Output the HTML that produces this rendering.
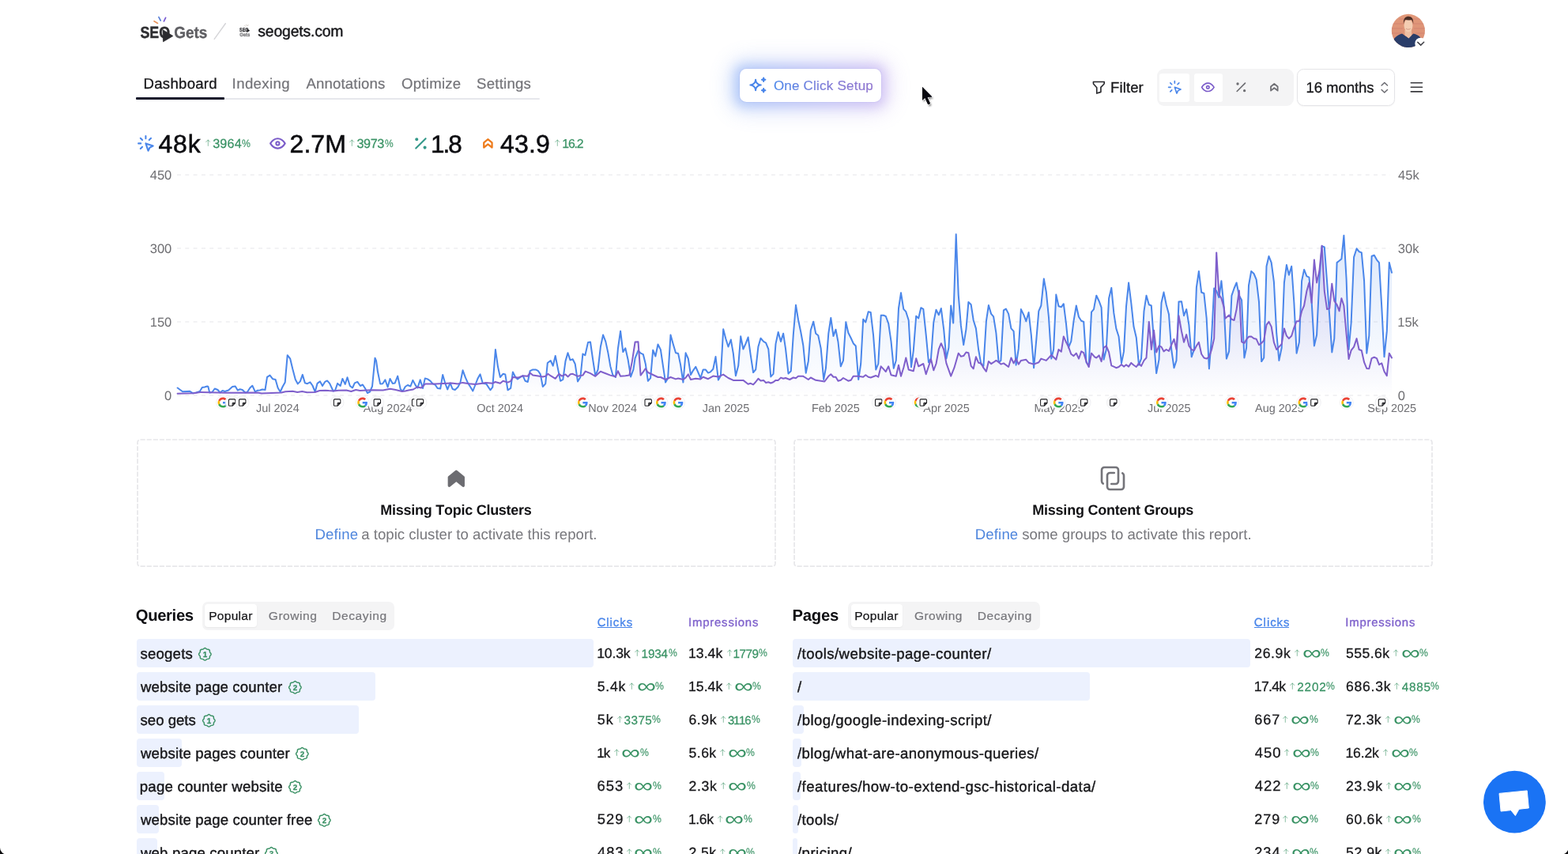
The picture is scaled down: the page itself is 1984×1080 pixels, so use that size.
<!DOCTYPE html>
<html lang="en"><head><meta charset="utf-8"><title>SEO Gets – seogets.com dashboard</title><meta name="viewport" content="width=1984"><style>
*{box-sizing:border-box}
html,body{margin:0;padding:0;background:#fff}
html{width:1984px;height:1080px;overflow:hidden}
body{width:1984px;height:1080px;overflow:hidden;font-family:"Liberation Sans",Arial,Helvetica,sans-serif;font-kerning:none;color:#17171a;-webkit-font-smoothing:antialiased;text-rendering:geometricPrecision}
main{display:block;position:relative;width:1984px;height:1080px;overflow:hidden;contain:strict}
header,nav,section,article,div[role]{display:block;margin:0;padding:0}
.t{position:absolute;white-space:nowrap;line-height:1;margin:0;padding:0;font-weight:400;text-decoration:none;border:0;background:none;font-family:inherit;display:block;cursor:default}
.grad{background:linear-gradient(90deg,#4a86ea 0%,#7f7ad6 55%,#8f74cf 100%);-webkit-background-clip:text;background-clip:text;color:transparent;-webkit-text-fill-color:transparent}
.ocs-glow{position:absolute;border-radius:14px;background:linear-gradient(90deg,#4f86f0,#9d7be6);filter:blur(7px);opacity:.3}
.ocs-far{filter:blur(13px);opacity:.2;border-radius:22px}
.ocs{box-shadow:0 0 0 1px rgba(120,130,230,.10)}
</style></head>
<body>
<main>
<header>
<svg style="position:absolute;left:170px;top:14px" width="100" height="48" viewBox="170 14 100 48" aria-label="SEO Gets"><text x="177.4" y="47.5" font-family='"Liberation Sans",Arial,sans-serif' font-weight="700" font-size="20.6" fill="#2e2e31" stroke="#2e2e31" stroke-width=".45" stroke-linejoin="round" textLength="37.6" lengthAdjust="spacingAndGlyphs">SEO</text><text x="220.2" y="47.5" font-family='"Liberation Sans",Arial,sans-serif' font-weight="700" font-size="20.6" fill="#5e5e62" stroke="#5e5e62" stroke-width=".35" stroke-linejoin="round" textLength="42.2" lengthAdjust="spacingAndGlyphs">Gets</text><path d="M206 37.700 218.800 45.500 206.500 52.800Z" fill="#2b2b2f" stroke="#2b2b2f" stroke-width="0.8" stroke-linejoin="round"/><path d="M195 26.800l4.500 2.600" stroke="#e8945c" stroke-width="1.700" stroke-linecap="round"/><path d="M200.900 21.600l2.300 4.400" stroke="#5d82d8" stroke-width="1.700" stroke-linecap="round"/><path d="M209.600 22.300l-2.200 4.600" stroke="#7a5bd3" stroke-width="1.700" stroke-linecap="round"/></svg>
<svg style="position:absolute;left:268.00px;top:27.00px;" width="20.00" height="25.00" viewBox="268 27 20 25" fill="none" aria-hidden="true"><path d="M271.200 49.400 285.300 29.700" stroke="#d6d6d9" stroke-width="1.500" stroke-linecap="round"/></svg>
<svg style="position:absolute;left:301px;top:29px" width="18" height="18" viewBox="301 29 18 18" aria-hidden="true"><text x="303" y="39.600" font-family='"Liberation Sans",Arial,sans-serif' font-weight="700" font-size="6.800" fill="#3a3a3d" stroke="#3a3a3d" stroke-width=".3" textLength="11.500" lengthAdjust="spacingAndGlyphs">SEO</text><text x="303.200" y="45.600" font-family='"Liberation Sans",Arial,sans-serif' font-weight="700" font-size="6.600" fill="#77777a" stroke="#77777a" stroke-width=".25" textLength="13.200" lengthAdjust="spacingAndGlyphs">Gets</text><path d="M312.300 36.200 316.200 38.700 312.500 41Z" fill="#1c1c1f"/><path d="M309.500 32.300l1 .9M311.600 31.200l.5 1.200M314 31.400l-.5 1.200" stroke="#b9a9a0" stroke-width=".6" stroke-linecap="round"/></svg>
<span class="t" style="left:326.26px;top:31.21px;font-size:19.40px;letter-spacing:-0.167px;color:#17171a;-webkit-text-stroke:0.4px currentColor;">seogets.com</span>
<svg style="position:absolute;left:1758px;top:15px" width="50" height="50" viewBox="1758 15 50 50" aria-label="Account"><defs><clipPath id="avc"><circle cx="1781.900" cy="38.900" r="21.100"/></clipPath><linearGradient id="avbg" x1="0" y1="0" x2="0" y2="1"><stop offset="0" stop-color="#e2997a"/><stop offset="1" stop-color="#d98e74"/></linearGradient></defs><g clip-path="url(#avc)"><rect x="1758" y="15" width="50" height="50" fill="url(#avbg)"/><path d="M1762 30h14M1788 30h16M1760 36h15M1789 36h15M1761 42h12M1791 42h13M1770 24h6M1788 24h10" stroke="#cf7f70" stroke-width="1.200" opacity=".7"/><path d="M1760 62c0-10 5-17 14-19.500l8 5.500 6.500-5.500c7 1.500 10.500 6 12.500 12l2 9z" fill="#2a3d69"/><path d="M1777.500 38h8.600v6.800l-3.600 3.600-5-4z" fill="#eebfa3"/><ellipse cx="1782" cy="32.300" rx="5.500" ry="8" fill="#f4cdb2"/><path d="M1776 30.500c-.8-6 1.500-9.800 6.200-9.800 4.600 0 6.500 3.600 5.900 9.600-.5-3-1.300-4.600-2.300-5.400-2.300.8-5.400.8-7.600.2-1.200 1-1.800 2.900-2.200 5.400z" fill="#4a2e26"/><path d="M1779 36.200c1.800 1.300 4 1.300 5.800 0" stroke="#c98f7b" stroke-width=".8" fill="none"/></g><circle cx="1797.500" cy="54.900" r="7.200" fill="#fff"/><path d="M1793.800 53.400 1797.700 57.100 1801.700 53.300" stroke="#3f3f46" stroke-width="1.500" stroke-linecap="round" stroke-linejoin="round" fill="none"/></svg>
</header>
<nav>
<div style="position:absolute;left:172.00px;top:123.60px;width:510.60px;height:2.10px;background:#e6e7ec;border-radius:1px;"></div>
<div style="position:absolute;left:172.00px;top:123.30px;width:112.20px;height:2.50px;background:#14162b;border-radius:1px;"></div>
<a class="t" style="left:181.57px;top:97.11px;font-size:18.60px;letter-spacing:0.266px;color:#17171a;-webkit-text-stroke:0.3px currentColor;">Dashboard</a>
<a class="t" style="left:293.58px;top:97.11px;font-size:18.60px;letter-spacing:0.399px;color:#737378;-webkit-text-stroke:0.2px currentColor;">Indexing</a>
<a class="t" style="left:387.46px;top:97.11px;font-size:18.60px;letter-spacing:0.157px;color:#737378;-webkit-text-stroke:0.2px currentColor;">Annotations</a>
<a class="t" style="left:508.02px;top:97.11px;font-size:18.60px;letter-spacing:0.261px;color:#737378;-webkit-text-stroke:0.2px currentColor;">Optimize</a>
<a class="t" style="left:603.06px;top:97.11px;font-size:18.60px;letter-spacing:0.230px;color:#737378;-webkit-text-stroke:0.2px currentColor;">Settings</a>
</nav>
<div class="ocs-glow ocs-far" style="left:922px;top:74px;width:206px;height:69px"></div>
<div class="ocs-glow" style="left:929px;top:81px;width:192px;height:55px"></div>
<div class="ocs" style="position:absolute;left:935.80px;top:86.90px;width:178.90px;height:41.90px;background:#fff;border-radius:8.500px;"></div>
<svg style="position:absolute;left:946.20px;top:94.30px;" width="26.90" height="26.90" viewBox="0 0 24 24" fill="none" aria-hidden="true"><g stroke="#4a86ea" stroke-width="1.800" stroke-linecap="round" stroke-linejoin="round"><path d="M16 18a2 2 0 0 1 2 2a2 2 0 0 1 2-2a2 2 0 0 1-2-2a2 2 0 0 1-2 2zm0-12a2 2 0 0 1 2 2a2 2 0 0 1 2-2a2 2 0 0 1-2-2a2 2 0 0 1-2 2zm-7 12a6 6 0 0 1 6-6a6 6 0 0 1-6-6a6 6 0 0 1-6 6a6 6 0 0 1 6 6z"/></g><path d="M16 6a2 2 0 0 1 2 2a2 2 0 0 1 2-2a2 2 0 0 1-2-2a2 2 0 0 1-2 2zM16 18a2 2 0 0 1 2 2a2 2 0 0 1 2-2a2 2 0 0 1-2-2a2 2 0 0 1-2 2z" fill="#4a86ea"/></svg>
<button class="t grad" style="left:978.89px;top:99.71px;font-size:17.00px;letter-spacing:0.220px;-webkit-text-stroke:0.2px currentColor;">One Click Setup</button>
<div role="toolbar">
<svg style="position:absolute;left:1379.57px;top:99.87px;" width="20.67" height="20.67" viewBox="0 0 24 24" fill="none" aria-hidden="true"><g stroke="#2a2a2e" stroke-width="1.9" stroke-linecap="round" stroke-linejoin="round" color="#2a2a2e"><path d="M4 4h16v2.172a2 2 0 0 1-.586 1.414L15 12v7l-6 2v-8.500L4.520 7.572A2 2 0 0 1 4 6.227z"/></g></svg>
<button class="t" style="left:1405.07px;top:101.71px;font-size:18.60px;letter-spacing:0.080px;color:#17171a;-webkit-text-stroke:0.3px currentColor;">Filter</button>
<div style="position:absolute;left:1463.60px;top:86.90px;width:173.00px;height:47.40px;background:#f4f4f5;border-radius:9px;"></div>
<div style="position:absolute;left:1466.80px;top:92.50px;width:38.10px;height:36.00px;background:#fff;border-radius:3px;"></div>
<div style="position:absolute;left:1510.80px;top:92.50px;width:36.40px;height:36.00px;background:#fff;border-radius:3px;"></div>
<svg style="position:absolute;left:1475.57px;top:100.16px;" width="20.67" height="20.67" viewBox="0 0 24 24" fill="none" aria-hidden="true"><g stroke="#4a86ea" stroke-width="1.9" stroke-linecap="round" stroke-linejoin="round" color="#4a86ea"><path d="M3 12h3M12 3v3M7.8 7.8 5.6 5.6M16.2 7.8l2.2-2.2M7.8 16.2l-2.2 2.2M12 12l9 3-4 2-2 4-3-9"/></g></svg>
<svg style="position:absolute;left:1517.76px;top:100.16px;" width="20.67" height="20.67" viewBox="0 0 24 24" fill="none" aria-hidden="true"><g stroke="#7b5cc9" stroke-width="1.9" stroke-linecap="round" stroke-linejoin="round" color="#7b5cc9"><path d="M10 12a2 2 0 1 0 4 0a2 2 0 0 0-4 0"/><path d="M21 12c-2.4 4-5.4 6-9 6c-3.6 0-6.6-2-9-6c2.4-4 5.4-6 9-6c3.6 0 6.6 2 9 6"/></g></svg>
<svg style="position:absolute;left:1559.66px;top:100.06px;" width="20.67" height="20.67" viewBox="0 0 24 24" fill="none" aria-hidden="true"><g stroke="#6e6e73" stroke-width="1.9" stroke-linecap="round" stroke-linejoin="round" color="#6e6e73"><path d="M16 17a1 1 0 1 0 2 0a1 1 0 1 0-2 0M6 7a1 1 0 1 0 2 0a1 1 0 1 0-2 0M6 18 18 6"/></g></svg>
<svg style="position:absolute;left:1602.16px;top:99.97px;" width="20.67" height="20.67" viewBox="0 0 24 24" fill="none" aria-hidden="true"><g stroke="#6e6e73" stroke-width="2.1" stroke-linecap="round" stroke-linejoin="round" color="#6e6e73"><path d="M17 11v6l-5-4-5 4v-6l5-4z"/></g></svg>
<div style="position:absolute;left:1641.40px;top:87.00px;width:124.00px;height:47.00px;background:#fff;border:1px solid #e4e4e7;border-radius:8.500px;box-sizing:border-box;box-shadow:0 1px 2px rgba(0,0,0,.04);"></div>
<span class="t" style="left:1652.38px;top:101.80px;font-size:18.60px;letter-spacing:-0.083px;color:#17171a;-webkit-text-stroke:0.3px currentColor;">16 months</span>
<svg style="position:absolute;left:1743.00px;top:100.00px;" width="18.00" height="22.00" viewBox="1743 100 18 22" fill="none" aria-hidden="true"><path d="M1748.100 108.000 1751.800 104.500 1755.500 108.000M1748.100 113.500 1751.800 117.000 1755.500 113.500" stroke="#6a6a70" stroke-width="1.500" stroke-linecap="round" stroke-linejoin="round"/></svg>
<svg style="position:absolute;left:1780.00px;top:100.00px;" width="24.00" height="22.00" viewBox="1780 100 24 22" fill="none" aria-hidden="true"><path d="M1785.300 104.700h14.200M1785.300 110.300h14.200M1785.300 115.900h14.200" stroke="#3a3a3e" stroke-width="1.600" stroke-linecap="round"/></svg>
</div>
<section aria-label="Totals">
<svg style="position:absolute;left:172.40px;top:169.00px;" width="24.80" height="24.80" viewBox="0 0 24 24" fill="none" aria-hidden="true"><g stroke="#4a86ea" stroke-width="2" stroke-linecap="round" stroke-linejoin="round" color="#4a86ea"><path d="M3 12h3M12 3v3M7.8 7.8 5.6 5.6M16.2 7.8l2.2-2.2M7.8 16.2l-2.2 2.2M12 12l9 3-4 2-2 4-3-9"/></g></svg>
<span class="t" style="left:200.57px;top:165.61px;font-size:32.00px;letter-spacing:0.747px;color:#0c0c10;-webkit-text-stroke:0.55px currentColor;">48k</span>
<svg style="position:absolute;left:259.80px;top:176.17px;" width="6.60" height="9.20" viewBox="0 0 6.600 9.200" fill="none" aria-hidden="true"><path d="M3.300 8.400V1M.700 3.600 3.300 1 5.900 3.600" stroke="#3a9365" stroke-opacity=".6" stroke-width="1.000" stroke-linecap="round" stroke-linejoin="round"/></svg><span class="t" style="left:269.18px;top:173.61px;font-size:16.20px;letter-spacing:0.151px;color:#3a9365;-webkit-text-stroke:0.25px currentColor;">3964</span><span class="t" style="left:306.46px;top:174.52px;font-size:13.6px;color:#3a9365;-webkit-text-stroke:.15px currentColor;transform:scaleX(0.899);transform-origin:0 50%;">%</span>
<svg style="position:absolute;left:338.90px;top:169.00px;" width="24.80" height="24.80" viewBox="0 0 24 24" fill="none" aria-hidden="true"><g stroke="#7b5cc9" stroke-width="2" stroke-linecap="round" stroke-linejoin="round" color="#7b5cc9"><path d="M10 12a2 2 0 1 0 4 0a2 2 0 0 0-4 0"/><path d="M21 12c-2.4 4-5.4 6-9 6c-3.6 0-6.6-2-9-6c2.4-4 5.4-6 9-6c3.6 0 6.6 2 9 6"/></g></svg>
<span class="t" style="left:366.59px;top:165.61px;font-size:32.00px;letter-spacing:0.031px;color:#0c0c10;-webkit-text-stroke:0.55px currentColor;">2.7M</span>
<svg style="position:absolute;left:442.00px;top:176.17px;" width="6.60" height="9.20" viewBox="0 0 6.600 9.200" fill="none" aria-hidden="true"><path d="M3.300 8.400V1M.700 3.600 3.300 1 5.900 3.600" stroke="#3a9365" stroke-opacity=".6" stroke-width="1.000" stroke-linecap="round" stroke-linejoin="round"/></svg><span class="t" style="left:451.38px;top:173.61px;font-size:16.20px;letter-spacing:-0.370px;color:#3a9365;-webkit-text-stroke:0.25px currentColor;">3973</span><span class="t" style="left:486.87px;top:174.52px;font-size:13.6px;color:#3a9365;-webkit-text-stroke:.15px currentColor;transform:scaleX(0.881);transform-origin:0 50%;">%</span>
<svg style="position:absolute;left:520.00px;top:169.00px;" width="24.80" height="24.80" viewBox="0 0 24 24" fill="none" aria-hidden="true"><g stroke="#35998a" stroke-width="2" stroke-linecap="round" stroke-linejoin="round" color="#35998a"><path d="M16 17a1 1 0 1 0 2 0a1 1 0 1 0-2 0M6 7a1 1 0 1 0 2 0a1 1 0 1 0-2 0M6 18 18 6"/></g></svg>
<span class="t" style="left:545.01px;top:166.61px;font-size:31.40px;letter-spacing:-2.000px;color:#0c0c10;-webkit-text-stroke:0.55px currentColor;">1.8</span>
<svg style="position:absolute;left:605.40px;top:169.20px;" width="24.80" height="24.80" viewBox="0 0 24 24" fill="none" aria-hidden="true"><g stroke="#ee7d1f" stroke-width="2.2" stroke-linecap="round" stroke-linejoin="round" color="#ee7d1f"><path d="M17 11v6l-5-4-5 4v-6l5-4z"/></g></svg>
<span class="t" style="left:633.07px;top:165.61px;font-size:32.00px;letter-spacing:0.156px;color:#0c0c10;-webkit-text-stroke:0.55px currentColor;">43.9</span>
<svg style="position:absolute;left:702.00px;top:176.27px;" width="6.60" height="9.20" viewBox="0 0 6.600 9.200" fill="none" aria-hidden="true"><path d="M3.300 8.400V1M.700 3.600 3.300 1 5.900 3.600" stroke="#3a9365" stroke-opacity=".6" stroke-width="1.000" stroke-linecap="round" stroke-linejoin="round"/></svg><span class="t" style="left:711.29px;top:174.70px;font-size:15.83px;letter-spacing:-1.200px;color:#3a9365;-webkit-text-stroke:0.25px currentColor;">16.2</span>
</section>
<section aria-label="Performance chart">
<svg style="position:absolute;left:0;top:200px" width="1984" height="330" viewBox="0 200 1984 330" fill="none" role="img" aria-label="Clicks and impressions over 16 months"><defs><linearGradient id="gb" gradientUnits="userSpaceOnUse" x1="0" y1="290" x2="0" y2="500"><stop offset="0" stop-color="#4a86ea" stop-opacity=".2"/><stop offset="1" stop-color="#4a86ea" stop-opacity="0"/></linearGradient><linearGradient id="gp" gradientUnits="userSpaceOnUse" x1="0" y1="290" x2="0" y2="500"><stop offset="0" stop-color="#7b5cc9" stop-opacity=".2"/><stop offset="1" stop-color="#7b5cc9" stop-opacity="0"/></linearGradient></defs><path d="M224 221.1H1759" stroke="#e5e5e9" stroke-width="1" stroke-dasharray="5 5.3"/><path d="M224 314.0H1759" stroke="#e5e5e9" stroke-width="1" stroke-dasharray="5 5.3"/><path d="M224 407.0H1759" stroke="#e5e5e9" stroke-width="1" stroke-dasharray="5 5.3"/><path d="M224 500.0H1759" stroke="#e5e5e9" stroke-width="1" stroke-dasharray="5 5.3"/><path d="M224.6,500 L224.6,490.5 L231.1,495.3 L236.7,495.0 L240.2,494.8 L244.2,497.3 L248.3,496.5 L252.8,495.0 L255.8,490.0 L258.9,489.5 L262.2,488.5 L263.4,489.0 L265.2,496.5 L268.4,496.0 L271.7,491.5 L275.5,493.0 L278.5,496.5 L281.5,494.0 L284.6,495.0 L289.1,493.5 L294.1,489.0 L297.7,488.5 L300.7,493.5 L303.7,492.3 L306.7,493.0 L310.3,496.5 L312.8,496.0 L316.3,490.5 L319.3,487.7 L322.9,495.5 L325.9,493.7 L328.9,493.5 L331.9,492.5 L335.5,493.0 L338.0,476.9 L341.5,474.6 L345.0,479.2 L348.6,479.9 L351.6,490.5 L354.6,495.5 L357.6,489.0 L360.7,483.4 L363.7,449.2 L367.2,453.7 L370.2,466.3 L373.8,479.9 L376.8,485.4 L379.8,482.4 L382.8,473.9 L385.9,484.4 L388.9,485.2 L392.4,483.4 L395.4,487.5 L398.7,495.5 L401.5,484.9 L405.0,482.4 L408.0,488.0 L411.1,482.9 L414.0,481.4 L417.1,484.9 L421.6,494.5 L424.1,493.5 L427.1,484.9 L430.7,488.0 L433.4,478.9 L436.7,485.9 L439.5,477.2 L442.8,488.0 L446.0,490.5 L448.8,484.4 L452.3,482.9 L455.9,488.0 L458.9,486.5 L461.9,491.0 L464.9,497.0 L468.0,495.5 L471.0,488.5 L474.5,452.7 L476.0,456.2 L478.0,470.3 L481.1,485.4 L484.1,485.2 L487.4,480.4 L490.6,489.5 L493.5,478.9 L496.7,484.9 L499.7,484.4 L503.2,475.6 L506.8,492.5 L509.8,494.5 L512.8,489.0 L515.8,487.0 L519.4,488.5 L522.4,480.9 L525.9,487.5 L528.4,490.5 L531.7,480.4 L535.0,491.0 L537.8,478.4 L541.0,479.4 L544.6,481.9 L547.6,485.4 L550.6,486.5 L553.6,491.0 L557.2,491.5 L560.2,473.9 L563.2,484.4 L566.2,492.5 L569.6,484.4 L572.6,492.0 L575.8,493.0 L579.4,489.5 L582.4,483.9 L585.6,468.3 L588.9,477.4 L592.0,484.4 L595.0,489.0 L598.3,494.5 L601.5,486.5 L604.6,478.4 L606.8,474.4 L607.6,473.4 L610.8,484.8 L615.2,485.4 L620.4,493.3 L623.3,489.7 L626.9,442.1 L630.0,463.8 L632.9,477.0 L636.5,472.8 L639.3,473.4 L642.5,493.3 L646.2,490.9 L648.9,470.4 L652.2,477.0 L654.9,479.4 L658.5,477.0 L661.6,475.2 L664.6,481.8 L667.8,483.0 L670.6,469.2 L674.2,467.4 L677.8,467.4 L681.1,469.2 L683.8,473.4 L686.8,489.0 L690.2,485.4 L692.8,459.0 L696.7,456.0 L699.7,462.6 L702.7,449.9 L705.8,465.6 L709.1,481.8 L712.3,480.0 L715.5,456.6 L718.5,446.3 L721.5,455.4 L724.7,454.2 L727.7,460.2 L731.0,482.4 L734.4,477.0 L737.4,447.5 L740.4,449.3 L744.0,433.1 L747.0,432.5 L750.2,454.8 L753.3,475.2 L756.6,467.4 L759.9,438.5 L763.1,423.5 L766.3,431.9 L769.3,445.7 L772.3,463.2 L775.3,474.0 L778.9,477.0 L781.9,440.9 L785.1,418.7 L788.3,445.1 L791.3,440.3 L794.5,454.2 L798.1,476.4 L801.4,467.4 L803.6,452.9 L807.5,443.3 L810.6,446.7 L813.8,448.1 L816.8,460.2 L819.9,481.8 L823.1,478.2 L826.2,442.7 L829.4,450.5 L832.5,435.5 L835.9,442.1 L839.1,463.8 L842.1,483.6 L845.1,478.2 L848.5,423.5 L851.7,434.9 L855.0,446.3 L858.1,446.9 L861.1,461.4 L864.4,483.6 L867.6,446.3 L870.8,453.5 L874.0,474.0 L877.0,468.6 L880.3,463.8 L883.4,471.0 L886.4,478.2 L889.7,467.4 L892.7,467.4 L896.0,471.6 L898.9,470.4 L902.3,466.8 L905.5,451.1 L908.9,480.6 L911.9,475.2 L915.2,416.2 L918.3,428.3 L921.5,438.5 L924.8,429.5 L927.8,446.9 L930.9,475.2 L934.2,462.6 L937.2,425.3 L940.4,441.5 L943.4,434.9 L946.6,426.5 L949.8,449.3 L953.1,471.0 L956.2,467.4 L959.4,438.5 L962.5,427.7 L966.1,431.9 L969.1,433.7 L972.3,441.5 L975.3,476.4 L978.5,472.8 L981.5,434.9 L984.7,419.9 L988.0,431.9 L991.1,421.7 L994.0,440.9 L997.5,472.5 L1000.8,469.2 L1003.8,423.3 L1007.0,385.8 L1010.0,404.2 L1013.3,420.0 L1016.3,436.7 L1019.7,471.7 L1022.8,456.7 L1025.8,417.5 L1029.2,406.7 L1032.2,421.7 L1035.3,424.2 L1038.7,440.8 L1042.2,480.0 L1045.0,465.0 L1048.3,421.7 L1051.3,402.0 L1054.5,425.0 L1057.5,416.7 L1060.5,432.5 L1063.8,463.3 L1067.0,455.8 L1070.3,407.2 L1073.3,420.8 L1076.7,427.5 L1079.7,434.2 L1082.8,437.5 L1086.2,480.0 L1089.2,460.0 L1092.2,403.7 L1095.3,407.5 L1098.7,394.2 L1101.7,395.0 L1105.0,423.3 L1108.3,467.5 L1111.3,460.0 L1114.7,398.7 L1117.8,398.7 L1120.8,400.0 L1124.2,409.2 L1127.5,431.7 L1130.8,465.8 L1133.8,455.8 L1137.0,390.0 L1140.0,370.3 L1143.3,390.8 L1146.3,394.2 L1149.7,405.0 L1153.0,464.2 L1155.8,443.3 L1159.2,399.7 L1162.2,402.5 L1165.3,389.2 L1168.3,390.8 L1171.7,423.3 L1175.0,458.3 L1178.0,453.3 L1181.3,407.5 L1184.5,391.7 L1187.8,398.3 L1190.8,390.0 L1194.2,416.6 L1197.4,453.6 L1200.4,439.7 L1203.2,386.5 L1206.2,408.5 L1209.7,296.2 L1212.7,372.6 L1215.9,411.9 L1219.2,436.2 L1222.4,416.6 L1225.4,381.9 L1228.7,385.3 L1231.7,405.0 L1234.9,415.4 L1238.1,442.0 L1241.4,460.6 L1244.4,462.9 L1247.9,406.2 L1250.9,386.0 L1254.1,396.9 L1257.1,400.4 L1260.4,421.2 L1263.6,458.2 L1266.4,455.9 L1269.9,392.3 L1272.9,390.6 L1276.1,396.9 L1279.4,415.4 L1282.6,418.9 L1285.6,461.7 L1288.8,440.9 L1291.9,391.1 L1295.3,398.1 L1298.3,406.2 L1301.6,395.0 L1304.8,423.5 L1308.1,465.2 L1311.3,429.3 L1314.3,393.4 L1317.3,386.5 L1320.8,352.5 L1323.8,369.1 L1327.0,401.5 L1330.3,453.6 L1333.1,442.0 L1336.3,372.6 L1339.5,387.2 L1342.8,388.3 L1345.8,384.2 L1349.0,409.6 L1352.0,439.7 L1355.3,431.6 L1358.5,406.2 L1361.8,386.5 L1365.0,400.8 L1368.2,405.7 L1371.2,406.9 L1374.5,458.2 L1377.7,462.9 L1381.0,394.6 L1384.0,391.1 L1385.0,385.3 L1387.3,373.8 L1390.6,380.7 L1393.6,388.8 L1396.6,454.8 L1399.8,442.0 L1403.1,377.2 L1406.3,364.0 L1409.3,395.7 L1412.3,415.4 L1415.6,425.8 L1419.0,459.4 L1422.0,444.4 L1425.0,387.6 L1428.1,357.5 L1431.3,383.0 L1434.5,413.1 L1437.8,427.0 L1441.0,461.7 L1444.0,453.6 L1447.5,393.4 L1450.5,373.8 L1453.8,385.3 L1456.8,386.5 L1460.0,431.6 L1463.2,472.1 L1466.5,454.8 L1469.5,383.0 L1472.5,369.6 L1475.7,385.3 L1479.0,397.6 L1482.2,442.0 L1485.5,465.2 L1488.5,455.9 L1491.5,381.4 L1495.0,381.2 L1498.0,399.2 L1501.2,391.1 L1504.4,410.8 L1507.7,451.3 L1510.9,442.0 L1513.9,363.3 L1516.9,343.0 L1520.2,369.8 L1523.4,371.0 L1526.7,402.7 L1529.9,466.3 L1533.1,425.8 L1536.2,364.5 L1539.2,368.0 L1542.4,376.1 L1545.4,355.2 L1548.7,388.8 L1551.9,453.6 L1555.1,444.4 L1558.4,373.8 L1561.6,364.5 L1564.6,357.5 L1567.9,373.8 L1571.1,379.5 L1574.4,452.5 L1577.1,439.7 L1580.0,361.0 L1583.2,343.0 L1586.5,346.0 L1589.7,353.6 L1593.0,381.9 L1596.2,457.1 L1599.2,452.5 L1602.5,336.7 L1605.5,324.0 L1608.7,332.1 L1611.9,356.4 L1615.2,421.2 L1618.4,455.9 L1621.7,439.7 L1624.9,357.5 L1627.9,335.1 L1630.9,347.8 L1634.2,336.7 L1637.4,383.0 L1640.6,446.7 L1643.9,432.8 L1647.1,355.2 L1650.1,340.9 L1653.4,349.4 L1656.4,350.6 L1659.6,380.7 L1662.9,437.4 L1666.1,423.5 L1669.4,352.9 L1672.6,311.2 L1675.8,312.4 L1679.1,356.4 L1682.3,400.4 L1685.3,445.5 L1688.3,428.1 L1691.6,332.1 L1694.6,329.8 L1697.4,327.5 L1700.4,297.8 L1703.6,352.9 L1706.6,442.0 L1709.6,408.5 L1713.1,325.1 L1716.6,314.3 L1719.6,318.2 L1722.8,319.4 L1726.1,355.2 L1729.3,446.7 L1732.3,424.7 L1735.6,324.0 L1738.8,322.8 L1742.0,328.6 L1745.0,332.1 L1748.3,388.8 L1751.5,451.3 L1754.8,418.9 L1757.8,332.1 L1761.0,344.8 L1761.0,500Z" fill="url(#gb)"/><path d="M224.6,500 L224.6,497.7 L245.2,497.3 L253.3,496.0 L285.6,496.7 L325.9,496.5 L330.9,497.5 L356.1,496.5 L361.2,495.3 L370.2,494.8 L376.3,496.0 L382.3,495.0 L388.4,496.3 L398.5,496.0 L404.5,494.0 L411.6,493.7 L416.0,494.1 L422.1,494.5 L428.1,493.7 L438.2,493.5 L444.3,495.0 L450.3,493.0 L455.4,494.0 L464.4,493.5 L472.5,493.3 L484.6,493.5 L493.7,491.7 L500.7,493.0 L508.8,495.0 L512.8,494.5 L516.9,493.5 L522.9,492.5 L527.9,489.5 L533.0,490.5 L538.0,485.6 L544.1,485.6 L551.1,485.4 L561.2,484.9 L571.3,484.4 L579.4,485.4 L585.4,483.9 L593.5,485.2 L601.5,485.9 L606.6,485.2 L607.4,485.2 L614.6,484.0 L623.1,484.8 L626.7,483.0 L632.9,484.8 L636.5,481.8 L642.5,483.6 L646.5,481.8 L648.9,477.0 L655.5,477.6 L661.6,475.2 L667.6,475.8 L670.6,471.6 L674.2,474.6 L681.1,475.6 L686.8,476.4 L690.2,475.8 L693.4,472.8 L696.7,475.2 L702.7,478.8 L707.3,472.8 L710.9,475.6 L715.5,473.4 L718.7,476.4 L721.7,473.2 L724.7,472.8 L731.0,475.8 L737.4,474.6 L740.7,469.6 L747.0,472.2 L753.3,475.8 L759.9,469.8 L766.3,472.2 L772.3,474.6 L778.9,476.4 L781.9,469.2 L785.1,475.8 L791.3,475.2 L796.3,474.6 L799.9,456.6 L803.6,432.5 L807.5,432.3 L810.6,474.6 L813.8,470.4 L816.8,466.2 L819.9,471.0 L826.2,474.0 L832.5,477.0 L835.9,477.0 L842.1,480.0 L848.5,477.0 L855.0,479.4 L858.1,478.5 L864.4,480.0 L867.6,477.6 L870.8,473.4 L874.0,480.0 L880.3,478.8 L886.4,479.4 L889.7,476.8 L896.0,479.2 L902.3,475.6 L908.9,476.4 L915.2,473.6 L921.5,478.0 L927.8,480.9 L934.2,480.9 L940.4,480.9 L946.6,485.7 L949.8,484.8 L953.1,486.4 L956.2,483.0 L959.4,478.8 L962.5,481.6 L966.1,480.9 L969.1,484.0 L972.3,483.3 L975.3,484.5 L978.5,483.3 L981.5,480.9 L984.7,480.9 L988.0,477.6 L991.1,478.8 L994.0,478.0 L999.2,480.0 L1003.8,477.5 L1007.0,478.3 L1010.0,475.8 L1016.3,475.8 L1022.8,480.0 L1025.8,477.5 L1032.2,480.8 L1038.7,481.7 L1043.3,482.5 L1048.3,475.8 L1051.3,473.3 L1054.5,476.7 L1057.5,476.7 L1060.5,481.7 L1063.8,480.8 L1067.0,478.0 L1073.3,481.7 L1076.7,480.8 L1079.7,475.8 L1086.2,475.8 L1092.2,476.7 L1095.3,474.2 L1098.7,476.7 L1101.7,477.5 L1108.3,475.0 L1111.3,476.7 L1114.7,463.3 L1117.8,466.7 L1120.8,470.0 L1124.2,463.3 L1127.5,474.2 L1133.8,475.8 L1137.0,461.7 L1140.0,475.8 L1143.3,465.0 L1146.3,452.5 L1149.7,467.5 L1155.8,469.2 L1159.2,453.3 L1162.2,463.3 L1168.3,460.0 L1171.7,473.3 L1175.0,463.3 L1178.0,454.2 L1181.3,468.3 L1184.5,460.0 L1187.8,441.7 L1190.8,434.2 L1194.2,442.0 L1197.4,459.4 L1203.2,475.6 L1207.4,465.2 L1212.7,446.7 L1215.9,450.8 L1219.2,450.1 L1222.4,445.5 L1225.4,446.2 L1228.7,462.9 L1231.7,466.3 L1234.9,451.3 L1238.1,458.7 L1241.4,459.4 L1244.4,465.2 L1247.9,469.8 L1250.9,457.1 L1254.1,460.1 L1257.1,458.2 L1260.4,455.9 L1263.6,457.8 L1266.4,460.6 L1269.9,459.4 L1276.1,464.0 L1279.4,452.5 L1282.6,459.4 L1285.6,453.6 L1288.8,460.6 L1291.9,455.9 L1298.3,454.8 L1301.6,458.7 L1308.1,460.6 L1314.3,458.2 L1317.3,453.6 L1323.8,455.9 L1330.3,449.0 L1336.3,454.8 L1339.5,442.0 L1342.8,444.8 L1345.8,425.4 L1349.0,432.8 L1352.0,438.6 L1355.3,447.8 L1358.5,450.1 L1361.8,446.7 L1365.0,453.6 L1368.2,444.4 L1371.2,446.2 L1374.5,457.1 L1377.7,464.0 L1381.0,446.7 L1384.0,450.1 L1385.0,451.3 L1387.3,452.5 L1390.6,449.4 L1393.6,457.1 L1396.6,439.7 L1399.8,437.4 L1403.1,445.5 L1406.3,462.4 L1409.3,463.6 L1412.3,465.2 L1415.6,464.0 L1419.0,461.0 L1422.0,463.6 L1425.0,461.2 L1428.1,463.6 L1431.3,458.9 L1434.5,461.7 L1437.8,464.0 L1441.0,459.4 L1444.0,462.9 L1447.5,455.9 L1450.5,452.5 L1453.8,406.9 L1456.8,442.0 L1460.0,417.7 L1463.2,445.5 L1466.5,437.4 L1469.5,438.6 L1472.5,444.4 L1475.7,442.0 L1479.0,443.9 L1482.2,436.2 L1485.5,428.8 L1488.5,442.0 L1491.5,399.2 L1495.0,418.9 L1498.0,432.8 L1501.2,423.1 L1504.4,437.4 L1507.7,442.0 L1510.9,443.2 L1513.9,437.4 L1516.9,432.8 L1520.2,447.8 L1523.4,452.5 L1526.7,453.6 L1529.9,451.3 L1533.1,442.0 L1536.2,428.1 L1539.2,319.4 L1542.4,372.6 L1545.4,377.2 L1548.7,388.8 L1550.3,402.7 L1555.1,398.5 L1558.4,403.8 L1561.6,405.0 L1564.6,391.1 L1567.9,367.5 L1571.1,432.3 L1574.4,433.9 L1577.1,429.3 L1580.0,425.8 L1583.2,425.4 L1586.5,428.1 L1589.7,428.8 L1593.0,436.2 L1596.2,433.9 L1599.2,430.5 L1602.5,410.8 L1605.5,406.9 L1608.7,413.1 L1611.9,432.8 L1615.2,442.0 L1618.4,438.6 L1621.7,435.1 L1624.9,415.4 L1627.9,424.7 L1630.9,428.1 L1634.2,424.7 L1637.4,414.3 L1640.6,406.2 L1643.9,406.2 L1647.1,393.4 L1650.1,386.5 L1653.4,368.0 L1656.4,357.5 L1659.6,383.0 L1662.9,328.6 L1666.1,357.5 L1669.4,342.5 L1672.6,310.8 L1675.8,368.0 L1679.1,391.1 L1682.3,390.0 L1685.3,358.7 L1688.3,380.7 L1691.6,385.3 L1694.6,393.4 L1697.4,377.2 L1700.4,386.5 L1703.6,422.4 L1706.6,454.1 L1709.6,443.2 L1713.1,438.6 L1716.6,428.1 L1719.6,442.0 L1722.8,443.2 L1726.1,458.2 L1729.3,465.9 L1732.3,466.3 L1735.6,453.1 L1738.8,451.8 L1742.0,453.1 L1745.0,461.2 L1748.3,459.4 L1751.5,469.8 L1754.8,475.1 L1757.8,446.7 L1761.0,452.5 L1761.0,500Z" fill="url(#gp)"/><polyline points="224.6,490.5 231.1,495.3 236.7,495.0 240.2,494.8 244.2,497.3 248.3,496.5 252.8,495.0 255.8,490.0 258.9,489.5 262.2,488.5 263.4,489.0 265.2,496.5 268.4,496.0 271.7,491.5 275.5,493.0 278.5,496.5 281.5,494.0 284.6,495.0 289.1,493.5 294.1,489.0 297.7,488.5 300.7,493.5 303.7,492.3 306.7,493.0 310.3,496.5 312.8,496.0 316.3,490.5 319.3,487.7 322.9,495.5 325.9,493.7 328.9,493.5 331.9,492.5 335.5,493.0 338.0,476.9 341.5,474.6 345.0,479.2 348.6,479.9 351.6,490.5 354.6,495.5 357.6,489.0 360.7,483.4 363.7,449.2 367.2,453.7 370.2,466.3 373.8,479.9 376.8,485.4 379.8,482.4 382.8,473.9 385.9,484.4 388.9,485.2 392.4,483.4 395.4,487.5 398.7,495.5 401.5,484.9 405.0,482.4 408.0,488.0 411.1,482.9 414.0,481.4 417.1,484.9 421.6,494.5 424.1,493.5 427.1,484.9 430.7,488.0 433.4,478.9 436.7,485.9 439.5,477.2 442.8,488.0 446.0,490.5 448.8,484.4 452.3,482.9 455.9,488.0 458.9,486.5 461.9,491.0 464.9,497.0 468.0,495.5 471.0,488.5 474.5,452.7 476.0,456.2 478.0,470.3 481.1,485.4 484.1,485.2 487.4,480.4 490.6,489.5 493.5,478.9 496.7,484.9 499.7,484.4 503.2,475.6 506.8,492.5 509.8,494.5 512.8,489.0 515.8,487.0 519.4,488.5 522.4,480.9 525.9,487.5 528.4,490.5 531.7,480.4 535.0,491.0 537.8,478.4 541.0,479.4 544.6,481.9 547.6,485.4 550.6,486.5 553.6,491.0 557.2,491.5 560.2,473.9 563.2,484.4 566.2,492.5 569.6,484.4 572.6,492.0 575.8,493.0 579.4,489.5 582.4,483.9 585.6,468.3 588.9,477.4 592.0,484.4 595.0,489.0 598.3,494.5 601.5,486.5 604.6,478.4 606.8,474.4 607.6,473.4 610.8,484.8 615.2,485.4 620.4,493.3 623.3,489.7 626.9,442.1 630.0,463.8 632.9,477.0 636.5,472.8 639.3,473.4 642.5,493.3 646.2,490.9 648.9,470.4 652.2,477.0 654.9,479.4 658.5,477.0 661.6,475.2 664.6,481.8 667.8,483.0 670.6,469.2 674.2,467.4 677.8,467.4 681.1,469.2 683.8,473.4 686.8,489.0 690.2,485.4 692.8,459.0 696.7,456.0 699.7,462.6 702.7,449.9 705.8,465.6 709.1,481.8 712.3,480.0 715.5,456.6 718.5,446.3 721.5,455.4 724.7,454.2 727.7,460.2 731.0,482.4 734.4,477.0 737.4,447.5 740.4,449.3 744.0,433.1 747.0,432.5 750.2,454.8 753.3,475.2 756.6,467.4 759.9,438.5 763.1,423.5 766.3,431.9 769.3,445.7 772.3,463.2 775.3,474.0 778.9,477.0 781.9,440.9 785.1,418.7 788.3,445.1 791.3,440.3 794.5,454.2 798.1,476.4 801.4,467.4 803.6,452.9 807.5,443.3 810.6,446.7 813.8,448.1 816.8,460.2 819.9,481.8 823.1,478.2 826.2,442.7 829.4,450.5 832.5,435.5 835.9,442.1 839.1,463.8 842.1,483.6 845.1,478.2 848.5,423.5 851.7,434.9 855.0,446.3 858.1,446.9 861.1,461.4 864.4,483.6 867.6,446.3 870.8,453.5 874.0,474.0 877.0,468.6 880.3,463.8 883.4,471.0 886.4,478.2 889.7,467.4 892.7,467.4 896.0,471.6 898.9,470.4 902.3,466.8 905.5,451.1 908.9,480.6 911.9,475.2 915.2,416.2 918.3,428.3 921.5,438.5 924.8,429.5 927.8,446.9 930.9,475.2 934.2,462.6 937.2,425.3 940.4,441.5 943.4,434.9 946.6,426.5 949.8,449.3 953.1,471.0 956.2,467.4 959.4,438.5 962.5,427.7 966.1,431.9 969.1,433.7 972.3,441.5 975.3,476.4 978.5,472.8 981.5,434.9 984.7,419.9 988.0,431.9 991.1,421.7 994.0,440.9 997.5,472.5 1000.8,469.2 1003.8,423.3 1007.0,385.8 1010.0,404.2 1013.3,420.0 1016.3,436.7 1019.7,471.7 1022.8,456.7 1025.8,417.5 1029.2,406.7 1032.2,421.7 1035.3,424.2 1038.7,440.8 1042.2,480.0 1045.0,465.0 1048.3,421.7 1051.3,402.0 1054.5,425.0 1057.5,416.7 1060.5,432.5 1063.8,463.3 1067.0,455.8 1070.3,407.2 1073.3,420.8 1076.7,427.5 1079.7,434.2 1082.8,437.5 1086.2,480.0 1089.2,460.0 1092.2,403.7 1095.3,407.5 1098.7,394.2 1101.7,395.0 1105.0,423.3 1108.3,467.5 1111.3,460.0 1114.7,398.7 1117.8,398.7 1120.8,400.0 1124.2,409.2 1127.5,431.7 1130.8,465.8 1133.8,455.8 1137.0,390.0 1140.0,370.3 1143.3,390.8 1146.3,394.2 1149.7,405.0 1153.0,464.2 1155.8,443.3 1159.2,399.7 1162.2,402.5 1165.3,389.2 1168.3,390.8 1171.7,423.3 1175.0,458.3 1178.0,453.3 1181.3,407.5 1184.5,391.7 1187.8,398.3 1190.8,390.0 1194.2,416.6 1197.4,453.6 1200.4,439.7 1203.2,386.5 1206.2,408.5 1209.7,296.2 1212.7,372.6 1215.9,411.9 1219.2,436.2 1222.4,416.6 1225.4,381.9 1228.7,385.3 1231.7,405.0 1234.9,415.4 1238.1,442.0 1241.4,460.6 1244.4,462.9 1247.9,406.2 1250.9,386.0 1254.1,396.9 1257.1,400.4 1260.4,421.2 1263.6,458.2 1266.4,455.9 1269.9,392.3 1272.9,390.6 1276.1,396.9 1279.4,415.4 1282.6,418.9 1285.6,461.7 1288.8,440.9 1291.9,391.1 1295.3,398.1 1298.3,406.2 1301.6,395.0 1304.8,423.5 1308.1,465.2 1311.3,429.3 1314.3,393.4 1317.3,386.5 1320.8,352.5 1323.8,369.1 1327.0,401.5 1330.3,453.6 1333.1,442.0 1336.3,372.6 1339.5,387.2 1342.8,388.3 1345.8,384.2 1349.0,409.6 1352.0,439.7 1355.3,431.6 1358.5,406.2 1361.8,386.5 1365.0,400.8 1368.2,405.7 1371.2,406.9 1374.5,458.2 1377.7,462.9 1381.0,394.6 1384.0,391.1 1385.0,385.3 1387.3,373.8 1390.6,380.7 1393.6,388.8 1396.6,454.8 1399.8,442.0 1403.1,377.2 1406.3,364.0 1409.3,395.7 1412.3,415.4 1415.6,425.8 1419.0,459.4 1422.0,444.4 1425.0,387.6 1428.1,357.5 1431.3,383.0 1434.5,413.1 1437.8,427.0 1441.0,461.7 1444.0,453.6 1447.5,393.4 1450.5,373.8 1453.8,385.3 1456.8,386.5 1460.0,431.6 1463.2,472.1 1466.5,454.8 1469.5,383.0 1472.5,369.6 1475.7,385.3 1479.0,397.6 1482.2,442.0 1485.5,465.2 1488.5,455.9 1491.5,381.4 1495.0,381.2 1498.0,399.2 1501.2,391.1 1504.4,410.8 1507.7,451.3 1510.9,442.0 1513.9,363.3 1516.9,343.0 1520.2,369.8 1523.4,371.0 1526.7,402.7 1529.9,466.3 1533.1,425.8 1536.2,364.5 1539.2,368.0 1542.4,376.1 1545.4,355.2 1548.7,388.8 1551.9,453.6 1555.1,444.4 1558.4,373.8 1561.6,364.5 1564.6,357.5 1567.9,373.8 1571.1,379.5 1574.4,452.5 1577.1,439.7 1580.0,361.0 1583.2,343.0 1586.5,346.0 1589.7,353.6 1593.0,381.9 1596.2,457.1 1599.2,452.5 1602.5,336.7 1605.5,324.0 1608.7,332.1 1611.9,356.4 1615.2,421.2 1618.4,455.9 1621.7,439.7 1624.9,357.5 1627.9,335.1 1630.9,347.8 1634.2,336.7 1637.4,383.0 1640.6,446.7 1643.9,432.8 1647.1,355.2 1650.1,340.9 1653.4,349.4 1656.4,350.6 1659.6,380.7 1662.9,437.4 1666.1,423.5 1669.4,352.9 1672.6,311.2 1675.8,312.4 1679.1,356.4 1682.3,400.4 1685.3,445.5 1688.3,428.1 1691.6,332.1 1694.6,329.8 1697.4,327.5 1700.4,297.8 1703.6,352.9 1706.6,442.0 1709.6,408.5 1713.1,325.1 1716.6,314.3 1719.6,318.2 1722.8,319.4 1726.1,355.2 1729.3,446.7 1732.3,424.7 1735.6,324.0 1738.8,322.8 1742.0,328.6 1745.0,332.1 1748.3,388.8 1751.5,451.3 1754.8,418.9 1757.8,332.1 1761.0,344.8" stroke="#4a86ea" stroke-width="2" stroke-linejoin="round" stroke-linecap="round"/><polyline points="224.6,497.7 245.2,497.3 253.3,496.0 285.6,496.7 325.9,496.5 330.9,497.5 356.1,496.5 361.2,495.3 370.2,494.8 376.3,496.0 382.3,495.0 388.4,496.3 398.5,496.0 404.5,494.0 411.6,493.7 416.0,494.1 422.1,494.5 428.1,493.7 438.2,493.5 444.3,495.0 450.3,493.0 455.4,494.0 464.4,493.5 472.5,493.3 484.6,493.5 493.7,491.7 500.7,493.0 508.8,495.0 512.8,494.5 516.9,493.5 522.9,492.5 527.9,489.5 533.0,490.5 538.0,485.6 544.1,485.6 551.1,485.4 561.2,484.9 571.3,484.4 579.4,485.4 585.4,483.9 593.5,485.2 601.5,485.9 606.6,485.2 607.4,485.2 614.6,484.0 623.1,484.8 626.7,483.0 632.9,484.8 636.5,481.8 642.5,483.6 646.5,481.8 648.9,477.0 655.5,477.6 661.6,475.2 667.6,475.8 670.6,471.6 674.2,474.6 681.1,475.6 686.8,476.4 690.2,475.8 693.4,472.8 696.7,475.2 702.7,478.8 707.3,472.8 710.9,475.6 715.5,473.4 718.7,476.4 721.7,473.2 724.7,472.8 731.0,475.8 737.4,474.6 740.7,469.6 747.0,472.2 753.3,475.8 759.9,469.8 766.3,472.2 772.3,474.6 778.9,476.4 781.9,469.2 785.1,475.8 791.3,475.2 796.3,474.6 799.9,456.6 803.6,432.5 807.5,432.3 810.6,474.6 813.8,470.4 816.8,466.2 819.9,471.0 826.2,474.0 832.5,477.0 835.9,477.0 842.1,480.0 848.5,477.0 855.0,479.4 858.1,478.5 864.4,480.0 867.6,477.6 870.8,473.4 874.0,480.0 880.3,478.8 886.4,479.4 889.7,476.8 896.0,479.2 902.3,475.6 908.9,476.4 915.2,473.6 921.5,478.0 927.8,480.9 934.2,480.9 940.4,480.9 946.6,485.7 949.8,484.8 953.1,486.4 956.2,483.0 959.4,478.8 962.5,481.6 966.1,480.9 969.1,484.0 972.3,483.3 975.3,484.5 978.5,483.3 981.5,480.9 984.7,480.9 988.0,477.6 991.1,478.8 994.0,478.0 999.2,480.0 1003.8,477.5 1007.0,478.3 1010.0,475.8 1016.3,475.8 1022.8,480.0 1025.8,477.5 1032.2,480.8 1038.7,481.7 1043.3,482.5 1048.3,475.8 1051.3,473.3 1054.5,476.7 1057.5,476.7 1060.5,481.7 1063.8,480.8 1067.0,478.0 1073.3,481.7 1076.7,480.8 1079.7,475.8 1086.2,475.8 1092.2,476.7 1095.3,474.2 1098.7,476.7 1101.7,477.5 1108.3,475.0 1111.3,476.7 1114.7,463.3 1117.8,466.7 1120.8,470.0 1124.2,463.3 1127.5,474.2 1133.8,475.8 1137.0,461.7 1140.0,475.8 1143.3,465.0 1146.3,452.5 1149.7,467.5 1155.8,469.2 1159.2,453.3 1162.2,463.3 1168.3,460.0 1171.7,473.3 1175.0,463.3 1178.0,454.2 1181.3,468.3 1184.5,460.0 1187.8,441.7 1190.8,434.2 1194.2,442.0 1197.4,459.4 1203.2,475.6 1207.4,465.2 1212.7,446.7 1215.9,450.8 1219.2,450.1 1222.4,445.5 1225.4,446.2 1228.7,462.9 1231.7,466.3 1234.9,451.3 1238.1,458.7 1241.4,459.4 1244.4,465.2 1247.9,469.8 1250.9,457.1 1254.1,460.1 1257.1,458.2 1260.4,455.9 1263.6,457.8 1266.4,460.6 1269.9,459.4 1276.1,464.0 1279.4,452.5 1282.6,459.4 1285.6,453.6 1288.8,460.6 1291.9,455.9 1298.3,454.8 1301.6,458.7 1308.1,460.6 1314.3,458.2 1317.3,453.6 1323.8,455.9 1330.3,449.0 1336.3,454.8 1339.5,442.0 1342.8,444.8 1345.8,425.4 1349.0,432.8 1352.0,438.6 1355.3,447.8 1358.5,450.1 1361.8,446.7 1365.0,453.6 1368.2,444.4 1371.2,446.2 1374.5,457.1 1377.7,464.0 1381.0,446.7 1384.0,450.1 1385.0,451.3 1387.3,452.5 1390.6,449.4 1393.6,457.1 1396.6,439.7 1399.8,437.4 1403.1,445.5 1406.3,462.4 1409.3,463.6 1412.3,465.2 1415.6,464.0 1419.0,461.0 1422.0,463.6 1425.0,461.2 1428.1,463.6 1431.3,458.9 1434.5,461.7 1437.8,464.0 1441.0,459.4 1444.0,462.9 1447.5,455.9 1450.5,452.5 1453.8,406.9 1456.8,442.0 1460.0,417.7 1463.2,445.5 1466.5,437.4 1469.5,438.6 1472.5,444.4 1475.7,442.0 1479.0,443.9 1482.2,436.2 1485.5,428.8 1488.5,442.0 1491.5,399.2 1495.0,418.9 1498.0,432.8 1501.2,423.1 1504.4,437.4 1507.7,442.0 1510.9,443.2 1513.9,437.4 1516.9,432.8 1520.2,447.8 1523.4,452.5 1526.7,453.6 1529.9,451.3 1533.1,442.0 1536.2,428.1 1539.2,319.4 1542.4,372.6 1545.4,377.2 1548.7,388.8 1550.3,402.7 1555.1,398.5 1558.4,403.8 1561.6,405.0 1564.6,391.1 1567.9,367.5 1571.1,432.3 1574.4,433.9 1577.1,429.3 1580.0,425.8 1583.2,425.4 1586.5,428.1 1589.7,428.8 1593.0,436.2 1596.2,433.9 1599.2,430.5 1602.5,410.8 1605.5,406.9 1608.7,413.1 1611.9,432.8 1615.2,442.0 1618.4,438.6 1621.7,435.1 1624.9,415.4 1627.9,424.7 1630.9,428.1 1634.2,424.7 1637.4,414.3 1640.6,406.2 1643.9,406.2 1647.1,393.4 1650.1,386.5 1653.4,368.0 1656.4,357.5 1659.6,383.0 1662.9,328.6 1666.1,357.5 1669.4,342.5 1672.6,310.8 1675.8,368.0 1679.1,391.1 1682.3,390.0 1685.3,358.7 1688.3,380.7 1691.6,385.3 1694.6,393.4 1697.4,377.2 1700.4,386.5 1703.6,422.4 1706.6,454.1 1709.6,443.2 1713.1,438.6 1716.6,428.1 1719.6,442.0 1722.8,443.2 1726.1,458.2 1729.3,465.9 1732.3,466.3 1735.6,453.1 1738.8,451.8 1742.0,453.1 1745.0,461.2 1748.3,459.4 1751.5,469.8 1754.8,475.1 1757.8,446.7 1761.0,452.5" stroke="#7f5fcb" stroke-width="2" stroke-linejoin="round" stroke-linecap="round"/></svg>
<span class="t" style="left:189.71px;top:213.96px;font-size:16.50px;color:#6f6f73;">450</span>
<span class="t" style="left:189.71px;top:306.85px;font-size:16.50px;color:#6f6f73;">300</span>
<span class="t" style="left:189.71px;top:399.85px;font-size:16.50px;color:#6f6f73;">150</span>
<span class="t" style="left:208.07px;top:492.85px;font-size:16.50px;color:#6f6f73;">0</span>
<span class="t" style="left:1769.12px;top:213.96px;font-size:16.50px;color:#6f6f73;">45k</span>
<span class="t" style="left:1768.87px;top:306.85px;font-size:16.50px;color:#6f6f73;">30k</span>
<span class="t" style="left:1768.24px;top:399.85px;font-size:16.50px;color:#6f6f73;">15k</span>
<span class="t" style="left:1768.86px;top:492.85px;font-size:16.50px;color:#6f6f73;">0</span>
<span class="t" style="left:324.08px;top:510.00px;font-size:14.45px;color:#6f6f73;">Jul 2024</span>
<span class="t" style="left:459.66px;top:510.00px;font-size:14.45px;color:#6f6f73;">Aug 2024</span>
<span class="t" style="left:603.35px;top:510.00px;font-size:14.45px;color:#6f6f73;">Oct 2024</span>
<span class="t" style="left:744.29px;top:510.00px;font-size:14.45px;color:#6f6f73;">Nov 2024</span>
<span class="t" style="left:888.86px;top:510.00px;font-size:14.45px;color:#6f6f73;">Jan 2025</span>
<span class="t" style="left:1026.88px;top:510.00px;font-size:14.45px;color:#6f6f73;">Feb 2025</span>
<span class="t" style="left:1168.27px;top:510.00px;font-size:14.45px;color:#6f6f73;">Apr 2025</span>
<span class="t" style="left:1308.38px;top:510.00px;font-size:14.45px;color:#6f6f73;">May 2025</span>
<span class="t" style="left:1451.97px;top:510.00px;font-size:14.45px;color:#6f6f73;">Jul 2025</span>
<span class="t" style="left:1588.05px;top:510.00px;font-size:14.45px;color:#6f6f73;">Aug 2025</span>
<span class="t" style="left:1730.34px;top:510.00px;font-size:14.45px;color:#6f6f73;">Sep 2025</span>
<svg style="position:absolute;left:0;top:496px" width="1984" height="28" viewBox="0 496 1984 28" fill="none" aria-hidden="true"><circle cx="282.0" cy="509.1" r="8.4" fill="#fff" stroke="#ececf0" stroke-width=".8"/><g transform="translate(275.50 502.60) scale(0.2708)"><path fill="#EA4335" d="M24 9.500c3.540 0 6.710 1.220 9.210 3.600l6.850-6.850C35.900 2.380 30.470 0 24 0 14.620 0 6.510 5.380 2.560 13.220l7.980 6.190C12.430 13.720 17.740 9.500 24 9.500z"/><path fill="#4285F4" d="M46.980 24.550c0-1.570-.150-3.090-.380-4.550H24v9.020h12.940c-.580 2.960-2.260 5.480-4.780 7.180l7.730 6c4.510-4.180 7.090-10.360 7.090-17.650z"/><path fill="#FBBC05" d="M10.530 28.590c-.480-1.450-.760-2.990-.760-4.590s.270-3.140.760-4.590l-7.980-6.190C.920 16.460 0 20.120 0 24c0 3.880.920 7.540 2.560 10.780l7.970-6.190z"/><path fill="#34A853" d="M24 48c6.480 0 11.930-2.130 15.890-5.810l-7.730-6c-2.150 1.450-4.920 2.300-8.160 2.300-6.260 0-11.570-4.220-13.470-9.910l-7.980 6.190C6.510 42.620 14.620 48 24 48z"/></g><circle cx="293.6" cy="509.1" r="8.4" fill="#fff" stroke="#ececf0" stroke-width=".8"/><g transform="translate(287.30 502.80) scale(0.5250)" stroke="#1b1b1f" color="#1b1b1f" stroke-width="2.0" stroke-linecap="round" stroke-linejoin="round"><path d="M13 20l7-7M13 20v-6a1 1 0 0 1 1-1h6V6a2 2 0 0 0-2-2H6a2 2 0 0 0-2 2v12a2 2 0 0 0 2 2h7"/><path d="M14.200 18.200V14.600a.4.400 0 0 1 .4-.4h3.600z" fill="currentColor" stroke="none"/></g><circle cx="306.7" cy="509.1" r="8.4" fill="#fff" stroke="#ececf0" stroke-width=".8"/><g transform="translate(300.40 502.80) scale(0.5250)" stroke="#1b1b1f" color="#1b1b1f" stroke-width="2.0" stroke-linecap="round" stroke-linejoin="round"><path d="M13 20l7-7M13 20v-6a1 1 0 0 1 1-1h6V6a2 2 0 0 0-2-2H6a2 2 0 0 0-2 2v12a2 2 0 0 0 2 2h7"/><path d="M14.200 18.200V14.600a.4.400 0 0 1 .4-.4h3.600z" fill="currentColor" stroke="none"/></g><circle cx="426.6" cy="509.1" r="8.4" fill="#fff" stroke="#ececf0" stroke-width=".8"/><g transform="translate(420.30 502.80) scale(0.5250)" stroke="#1b1b1f" color="#1b1b1f" stroke-width="2.0" stroke-linecap="round" stroke-linejoin="round"><path d="M13 20l7-7M13 20v-6a1 1 0 0 1 1-1h6V6a2 2 0 0 0-2-2H6a2 2 0 0 0-2 2v12a2 2 0 0 0 2 2h7"/><path d="M14.200 18.200V14.600a.4.400 0 0 1 .4-.4h3.600z" fill="currentColor" stroke="none"/></g><circle cx="458.7" cy="509.1" r="8.4" fill="#fff" stroke="#ececf0" stroke-width=".8"/><g transform="translate(452.20 502.60) scale(0.2708)"><path fill="#EA4335" d="M24 9.500c3.540 0 6.710 1.220 9.210 3.600l6.850-6.850C35.900 2.380 30.470 0 24 0 14.620 0 6.510 5.380 2.560 13.220l7.980 6.190C12.430 13.720 17.740 9.500 24 9.500z"/><path fill="#4285F4" d="M46.980 24.550c0-1.570-.150-3.090-.380-4.550H24v9.020h12.940c-.580 2.960-2.260 5.480-4.780 7.180l7.730 6c4.510-4.180 7.090-10.360 7.090-17.650z"/><path fill="#FBBC05" d="M10.530 28.590c-.480-1.450-.760-2.990-.760-4.590s.270-3.140.760-4.590l-7.980-6.190C.920 16.460 0 20.120 0 24c0 3.880.920 7.540 2.560 10.780l7.970-6.190z"/><path fill="#34A853" d="M24 48c6.480 0 11.930-2.130 15.890-5.810l-7.730-6c-2.150 1.450-4.920 2.300-8.160 2.300-6.260 0-11.570-4.220-13.470-9.910l-7.980 6.190C6.510 42.620 14.620 48 24 48z"/></g><circle cx="477.3" cy="509.1" r="8.4" fill="#fff" stroke="#ececf0" stroke-width=".8"/><g transform="translate(471.00 502.80) scale(0.5250)" stroke="#1b1b1f" color="#1b1b1f" stroke-width="2.0" stroke-linecap="round" stroke-linejoin="round"><path d="M13 20l7-7M13 20v-6a1 1 0 0 1 1-1h6V6a2 2 0 0 0-2-2H6a2 2 0 0 0-2 2v12a2 2 0 0 0 2 2h7"/><path d="M14.200 18.200V14.600a.4.400 0 0 1 .4-.4h3.600z" fill="currentColor" stroke="none"/></g><circle cx="525.6" cy="509.1" r="8.4" fill="#fff" stroke="#ececf0" stroke-width=".8"/><g transform="translate(519.30 502.80) scale(0.5250)" stroke="#1b1b1f" color="#1b1b1f" stroke-width="2.0" stroke-linecap="round" stroke-linejoin="round"><path d="M13 20l7-7M13 20v-6a1 1 0 0 1 1-1h6V6a2 2 0 0 0-2-2H6a2 2 0 0 0-2 2v12a2 2 0 0 0 2 2h7"/><path d="M14.200 18.200V14.600a.4.400 0 0 1 .4-.4h3.600z" fill="currentColor" stroke="none"/></g><circle cx="531.5" cy="509.1" r="8.4" fill="#fff" stroke="#ececf0" stroke-width=".8"/><g transform="translate(525.20 502.80) scale(0.5250)" stroke="#1b1b1f" color="#1b1b1f" stroke-width="2.0" stroke-linecap="round" stroke-linejoin="round"><path d="M13 20l7-7M13 20v-6a1 1 0 0 1 1-1h6V6a2 2 0 0 0-2-2H6a2 2 0 0 0-2 2v12a2 2 0 0 0 2 2h7"/><path d="M14.200 18.200V14.600a.4.400 0 0 1 .4-.4h3.600z" fill="currentColor" stroke="none"/></g><circle cx="737.4" cy="509.1" r="8.4" fill="#fff" stroke="#ececf0" stroke-width=".8"/><g transform="translate(730.90 502.60) scale(0.2708)"><path fill="#EA4335" d="M24 9.500c3.540 0 6.710 1.220 9.210 3.600l6.850-6.850C35.900 2.380 30.470 0 24 0 14.620 0 6.510 5.380 2.560 13.220l7.980 6.190C12.430 13.720 17.740 9.500 24 9.500z"/><path fill="#4285F4" d="M46.980 24.550c0-1.570-.150-3.090-.380-4.550H24v9.020h12.940c-.580 2.960-2.260 5.480-4.780 7.180l7.730 6c4.510-4.180 7.090-10.360 7.090-17.650z"/><path fill="#FBBC05" d="M10.530 28.590c-.480-1.450-.760-2.990-.760-4.590s.270-3.140.760-4.590l-7.980-6.190C.920 16.460 0 20.120 0 24c0 3.880.920 7.540 2.560 10.780l7.970-6.190z"/><path fill="#34A853" d="M24 48c6.480 0 11.930-2.130 15.890-5.810l-7.730-6c-2.150 1.450-4.920 2.300-8.160 2.300-6.260 0-11.570-4.220-13.470-9.910l-7.980 6.190C6.510 42.620 14.620 48 24 48z"/></g><circle cx="820.2" cy="509.1" r="8.4" fill="#fff" stroke="#ececf0" stroke-width=".8"/><g transform="translate(813.90 502.80) scale(0.5250)" stroke="#1b1b1f" color="#1b1b1f" stroke-width="2.0" stroke-linecap="round" stroke-linejoin="round"><path d="M13 20l7-7M13 20v-6a1 1 0 0 1 1-1h6V6a2 2 0 0 0-2-2H6a2 2 0 0 0-2 2v12a2 2 0 0 0 2 2h7"/><path d="M14.200 18.200V14.600a.4.400 0 0 1 .4-.4h3.600z" fill="currentColor" stroke="none"/></g><circle cx="836.5" cy="509.1" r="8.4" fill="#fff" stroke="#ececf0" stroke-width=".8"/><g transform="translate(830.00 502.60) scale(0.2708)"><path fill="#EA4335" d="M24 9.500c3.540 0 6.710 1.220 9.210 3.600l6.850-6.850C35.900 2.380 30.470 0 24 0 14.620 0 6.510 5.380 2.560 13.220l7.980 6.190C12.430 13.720 17.740 9.500 24 9.500z"/><path fill="#4285F4" d="M46.980 24.550c0-1.570-.150-3.090-.380-4.550H24v9.020h12.940c-.580 2.960-2.260 5.480-4.780 7.180l7.730 6c4.510-4.180 7.090-10.360 7.090-17.650z"/><path fill="#FBBC05" d="M10.530 28.590c-.480-1.450-.760-2.990-.760-4.590s.270-3.140.760-4.590l-7.980-6.190C.920 16.460 0 20.120 0 24c0 3.880.920 7.540 2.560 10.780l7.970-6.190z"/><path fill="#34A853" d="M24 48c6.480 0 11.930-2.130 15.890-5.810l-7.730-6c-2.150 1.450-4.920 2.300-8.160 2.300-6.260 0-11.570-4.220-13.470-9.910l-7.980 6.190C6.510 42.620 14.620 48 24 48z"/></g><circle cx="858.1" cy="509.1" r="8.4" fill="#fff" stroke="#ececf0" stroke-width=".8"/><g transform="translate(851.60 502.60) scale(0.2708)"><path fill="#EA4335" d="M24 9.500c3.540 0 6.710 1.220 9.210 3.600l6.850-6.850C35.900 2.380 30.470 0 24 0 14.620 0 6.510 5.380 2.560 13.220l7.980 6.190C12.430 13.720 17.740 9.500 24 9.500z"/><path fill="#4285F4" d="M46.980 24.550c0-1.570-.150-3.090-.380-4.550H24v9.020h12.940c-.580 2.960-2.260 5.480-4.780 7.180l7.730 6c4.510-4.180 7.090-10.360 7.090-17.650z"/><path fill="#FBBC05" d="M10.530 28.590c-.480-1.450-.760-2.990-.760-4.590s.270-3.140.760-4.590l-7.980-6.190C.920 16.460 0 20.120 0 24c0 3.880.920 7.540 2.560 10.780l7.970-6.190z"/><path fill="#34A853" d="M24 48c6.480 0 11.930-2.130 15.890-5.810l-7.730-6c-2.150 1.450-4.920 2.300-8.160 2.300-6.260 0-11.570-4.220-13.470-9.910l-7.980 6.190C6.510 42.620 14.620 48 24 48z"/></g><circle cx="1111.7" cy="509.1" r="8.4" fill="#fff" stroke="#ececf0" stroke-width=".8"/><g transform="translate(1105.40 502.80) scale(0.5250)" stroke="#1b1b1f" color="#1b1b1f" stroke-width="2.0" stroke-linecap="round" stroke-linejoin="round"><path d="M13 20l7-7M13 20v-6a1 1 0 0 1 1-1h6V6a2 2 0 0 0-2-2H6a2 2 0 0 0-2 2v12a2 2 0 0 0 2 2h7"/><path d="M14.200 18.200V14.600a.4.400 0 0 1 .4-.4h3.600z" fill="currentColor" stroke="none"/></g><circle cx="1125" cy="509.1" r="8.4" fill="#fff" stroke="#ececf0" stroke-width=".8"/><g transform="translate(1118.50 502.60) scale(0.2708)"><path fill="#EA4335" d="M24 9.500c3.540 0 6.710 1.220 9.210 3.600l6.850-6.850C35.900 2.380 30.470 0 24 0 14.620 0 6.510 5.380 2.560 13.220l7.980 6.190C12.430 13.720 17.740 9.500 24 9.500z"/><path fill="#4285F4" d="M46.980 24.550c0-1.570-.150-3.090-.380-4.550H24v9.020h12.940c-.580 2.960-2.260 5.480-4.780 7.180l7.730 6c4.510-4.180 7.090-10.360 7.090-17.650z"/><path fill="#FBBC05" d="M10.530 28.590c-.480-1.450-.760-2.990-.760-4.590s.270-3.140.760-4.590l-7.980-6.190C.920 16.460 0 20.120 0 24c0 3.880.920 7.540 2.560 10.780l7.970-6.190z"/><path fill="#34A853" d="M24 48c6.480 0 11.930-2.130 15.890-5.810l-7.730-6c-2.150 1.450-4.920 2.300-8.160 2.300-6.260 0-11.570-4.220-13.470-9.910l-7.980 6.190C6.510 42.620 14.620 48 24 48z"/></g><circle cx="1163.2" cy="509.1" r="8.4" fill="#fff" stroke="#ececf0" stroke-width=".8"/><g transform="translate(1156.70 502.60) scale(0.2708)"><path fill="#EA4335" d="M24 9.500c3.540 0 6.710 1.220 9.210 3.600l6.850-6.850C35.900 2.380 30.470 0 24 0 14.620 0 6.510 5.380 2.560 13.220l7.980 6.190C12.430 13.720 17.740 9.500 24 9.500z"/><path fill="#4285F4" d="M46.980 24.550c0-1.570-.150-3.090-.380-4.550H24v9.020h12.940c-.580 2.960-2.260 5.480-4.780 7.180l7.730 6c4.510-4.180 7.090-10.360 7.090-17.650z"/><path fill="#FBBC05" d="M10.530 28.590c-.480-1.450-.760-2.990-.760-4.590s.270-3.140.760-4.590l-7.980-6.190C.920 16.460 0 20.120 0 24c0 3.880.920 7.540 2.560 10.780l7.970-6.190z"/><path fill="#34A853" d="M24 48c6.480 0 11.930-2.130 15.890-5.810l-7.730-6c-2.150 1.450-4.920 2.300-8.160 2.300-6.260 0-11.570-4.220-13.470-9.910l-7.980 6.190C6.510 42.620 14.620 48 24 48z"/></g><circle cx="1168.3" cy="509.1" r="8.4" fill="#fff" stroke="#ececf0" stroke-width=".8"/><g transform="translate(1162.00 502.80) scale(0.5250)" stroke="#1b1b1f" color="#1b1b1f" stroke-width="2.0" stroke-linecap="round" stroke-linejoin="round"><path d="M13 20l7-7M13 20v-6a1 1 0 0 1 1-1h6V6a2 2 0 0 0-2-2H6a2 2 0 0 0-2 2v12a2 2 0 0 0 2 2h7"/><path d="M14.200 18.200V14.600a.4.400 0 0 1 .4-.4h3.600z" fill="currentColor" stroke="none"/></g><circle cx="1320.8" cy="509.1" r="8.4" fill="#fff" stroke="#ececf0" stroke-width=".8"/><g transform="translate(1314.50 502.80) scale(0.5250)" stroke="#1b1b1f" color="#1b1b1f" stroke-width="2.0" stroke-linecap="round" stroke-linejoin="round"><path d="M13 20l7-7M13 20v-6a1 1 0 0 1 1-1h6V6a2 2 0 0 0-2-2H6a2 2 0 0 0-2 2v12a2 2 0 0 0 2 2h7"/><path d="M14.200 18.200V14.600a.4.400 0 0 1 .4-.4h3.600z" fill="currentColor" stroke="none"/></g><circle cx="1339.3" cy="509.1" r="8.4" fill="#fff" stroke="#ececf0" stroke-width=".8"/><g transform="translate(1332.80 502.60) scale(0.2708)"><path fill="#EA4335" d="M24 9.500c3.540 0 6.710 1.220 9.210 3.600l6.850-6.850C35.900 2.380 30.470 0 24 0 14.620 0 6.510 5.380 2.560 13.220l7.980 6.190C12.430 13.720 17.740 9.500 24 9.500z"/><path fill="#4285F4" d="M46.980 24.550c0-1.570-.150-3.090-.380-4.550H24v9.020h12.940c-.580 2.960-2.260 5.480-4.780 7.180l7.730 6c4.510-4.180 7.090-10.360 7.090-17.650z"/><path fill="#FBBC05" d="M10.530 28.590c-.480-1.450-.760-2.990-.760-4.590s.270-3.140.760-4.590l-7.980-6.190C.920 16.460 0 20.120 0 24c0 3.880.920 7.540 2.560 10.780l7.970-6.190z"/><path fill="#34A853" d="M24 48c6.480 0 11.930-2.130 15.890-5.810l-7.730-6c-2.150 1.450-4.920 2.300-8.160 2.300-6.260 0-11.570-4.220-13.470-9.910l-7.980 6.190C6.510 42.620 14.620 48 24 48z"/></g><circle cx="1371.7" cy="509.1" r="8.4" fill="#fff" stroke="#ececf0" stroke-width=".8"/><g transform="translate(1365.40 502.80) scale(0.5250)" stroke="#1b1b1f" color="#1b1b1f" stroke-width="2.0" stroke-linecap="round" stroke-linejoin="round"><path d="M13 20l7-7M13 20v-6a1 1 0 0 1 1-1h6V6a2 2 0 0 0-2-2H6a2 2 0 0 0-2 2v12a2 2 0 0 0 2 2h7"/><path d="M14.200 18.200V14.600a.4.400 0 0 1 .4-.4h3.600z" fill="currentColor" stroke="none"/></g><circle cx="1408.8" cy="509.1" r="8.4" fill="#fff" stroke="#ececf0" stroke-width=".8"/><g transform="translate(1402.50 502.80) scale(0.5250)" stroke="#1b1b1f" color="#1b1b1f" stroke-width="2.0" stroke-linecap="round" stroke-linejoin="round"><path d="M13 20l7-7M13 20v-6a1 1 0 0 1 1-1h6V6a2 2 0 0 0-2-2H6a2 2 0 0 0-2 2v12a2 2 0 0 0 2 2h7"/><path d="M14.200 18.200V14.600a.4.400 0 0 1 .4-.4h3.600z" fill="currentColor" stroke="none"/></g><circle cx="1469.5" cy="509.1" r="8.4" fill="#fff" stroke="#ececf0" stroke-width=".8"/><g transform="translate(1463.00 502.60) scale(0.2708)"><path fill="#EA4335" d="M24 9.500c3.540 0 6.710 1.220 9.210 3.600l6.850-6.850C35.900 2.380 30.470 0 24 0 14.620 0 6.510 5.380 2.560 13.220l7.980 6.190C12.430 13.720 17.740 9.500 24 9.500z"/><path fill="#4285F4" d="M46.980 24.550c0-1.570-.150-3.090-.380-4.550H24v9.020h12.940c-.580 2.960-2.260 5.480-4.780 7.180l7.730 6c4.510-4.180 7.090-10.360 7.090-17.650z"/><path fill="#FBBC05" d="M10.530 28.590c-.480-1.450-.760-2.990-.760-4.590s.270-3.140.760-4.590l-7.980-6.190C.920 16.460 0 20.120 0 24c0 3.880.920 7.540 2.560 10.780l7.970-6.190z"/><path fill="#34A853" d="M24 48c6.480 0 11.930-2.130 15.890-5.810l-7.730-6c-2.150 1.450-4.920 2.300-8.160 2.300-6.260 0-11.570-4.220-13.470-9.910l-7.980 6.190C6.510 42.620 14.620 48 24 48z"/></g><circle cx="1558.6" cy="509.1" r="8.4" fill="#fff" stroke="#ececf0" stroke-width=".8"/><g transform="translate(1552.10 502.60) scale(0.2708)"><path fill="#EA4335" d="M24 9.500c3.540 0 6.710 1.220 9.210 3.600l6.850-6.850C35.900 2.380 30.470 0 24 0 14.620 0 6.510 5.380 2.560 13.220l7.980 6.190C12.430 13.720 17.740 9.500 24 9.500z"/><path fill="#4285F4" d="M46.980 24.550c0-1.570-.150-3.090-.380-4.550H24v9.020h12.940c-.580 2.960-2.260 5.480-4.780 7.180l7.730 6c4.510-4.180 7.090-10.360 7.090-17.650z"/><path fill="#FBBC05" d="M10.530 28.590c-.480-1.450-.760-2.990-.760-4.590s.270-3.140.760-4.590l-7.980-6.190C.920 16.460 0 20.120 0 24c0 3.880.920 7.540 2.560 10.780l7.970-6.190z"/><path fill="#34A853" d="M24 48c6.480 0 11.930-2.130 15.890-5.810l-7.730-6c-2.150 1.450-4.920 2.300-8.160 2.300-6.260 0-11.570-4.220-13.470-9.910l-7.980 6.190C6.510 42.620 14.620 48 24 48z"/></g><circle cx="1649" cy="509.1" r="8.4" fill="#fff" stroke="#ececf0" stroke-width=".8"/><g transform="translate(1642.50 502.60) scale(0.2708)"><path fill="#EA4335" d="M24 9.500c3.540 0 6.710 1.220 9.210 3.600l6.850-6.850C35.900 2.380 30.470 0 24 0 14.620 0 6.510 5.380 2.560 13.220l7.980 6.190C12.430 13.720 17.740 9.500 24 9.500z"/><path fill="#4285F4" d="M46.980 24.550c0-1.570-.150-3.090-.380-4.550H24v9.020h12.940c-.580 2.960-2.260 5.480-4.780 7.180l7.730 6c4.510-4.180 7.090-10.360 7.090-17.650z"/><path fill="#FBBC05" d="M10.530 28.590c-.480-1.450-.760-2.990-.760-4.590s.270-3.140.760-4.590l-7.980-6.190C.920 16.460 0 20.120 0 24c0 3.880.920 7.540 2.560 10.780l7.970-6.190z"/><path fill="#34A853" d="M24 48c6.480 0 11.930-2.130 15.890-5.810l-7.730-6c-2.150 1.450-4.920 2.300-8.160 2.300-6.260 0-11.570-4.220-13.470-9.910l-7.980 6.190C6.510 42.620 14.620 48 24 48z"/></g><circle cx="1662.9" cy="509.1" r="8.4" fill="#fff" stroke="#ececf0" stroke-width=".8"/><g transform="translate(1656.60 502.80) scale(0.5250)" stroke="#1b1b1f" color="#1b1b1f" stroke-width="2.0" stroke-linecap="round" stroke-linejoin="round"><path d="M13 20l7-7M13 20v-6a1 1 0 0 1 1-1h6V6a2 2 0 0 0-2-2H6a2 2 0 0 0-2 2v12a2 2 0 0 0 2 2h7"/><path d="M14.200 18.200V14.600a.4.400 0 0 1 .4-.4h3.600z" fill="currentColor" stroke="none"/></g><circle cx="1703.8" cy="509.1" r="8.4" fill="#fff" stroke="#ececf0" stroke-width=".8"/><g transform="translate(1697.30 502.60) scale(0.2708)"><path fill="#EA4335" d="M24 9.500c3.540 0 6.710 1.220 9.210 3.600l6.850-6.850C35.900 2.380 30.470 0 24 0 14.620 0 6.510 5.380 2.560 13.220l7.980 6.190C12.430 13.720 17.740 9.500 24 9.500z"/><path fill="#4285F4" d="M46.980 24.550c0-1.570-.150-3.090-.380-4.550H24v9.020h12.940c-.580 2.960-2.260 5.480-4.780 7.180l7.730 6c4.510-4.180 7.090-10.360 7.090-17.650z"/><path fill="#FBBC05" d="M10.530 28.590c-.480-1.450-.760-2.990-.760-4.590s.270-3.140.760-4.590l-7.980-6.190C.920 16.460 0 20.120 0 24c0 3.880.920 7.540 2.560 10.780l7.970-6.190z"/><path fill="#34A853" d="M24 48c6.480 0 11.930-2.130 15.890-5.810l-7.730-6c-2.150 1.450-4.920 2.300-8.160 2.300-6.260 0-11.570-4.220-13.470-9.910l-7.980 6.190C6.510 42.620 14.620 48 24 48z"/></g><circle cx="1748.5" cy="509.1" r="8.4" fill="#fff" stroke="#ececf0" stroke-width=".8"/><g transform="translate(1742.20 502.80) scale(0.5250)" stroke="#1b1b1f" color="#1b1b1f" stroke-width="2.0" stroke-linecap="round" stroke-linejoin="round"><path d="M13 20l7-7M13 20v-6a1 1 0 0 1 1-1h6V6a2 2 0 0 0-2-2H6a2 2 0 0 0-2 2v12a2 2 0 0 0 2 2h7"/><path d="M14.200 18.200V14.600a.4.400 0 0 1 .4-.4h3.600z" fill="currentColor" stroke="none"/></g></svg>
</section>
<section aria-label="Reports">
<article><svg style="position:absolute;left:171.50px;top:554.40px;" width="811.00" height="164.20" viewBox="171.5 554.4 811.0 164.20000000000005" fill="none" aria-hidden="true"><rect x="173.5" y="556.4" width="807.0" height="160.20000000000005" rx="3.500" stroke="#e7e7ea" stroke-width="1.700" stroke-dasharray="6.2 1.9"/></svg><svg style="position:absolute;left:555.70px;top:583.70px;" width="42.60" height="42.60" viewBox="0 0 24 24" fill="none" aria-hidden="true"><g stroke="#6c6c71" stroke-width="0" stroke-linecap="round" stroke-linejoin="round" color="#6c6c71"><path fill="currentColor" stroke="none" d="M11.375 6.22l-5 4a1 1 0 0 0-.375.78v6l.006.112a1 1 0 0 0 1.619.669L12 14.28l4.375 3.5A1 1 0 0 0 18 17v-6a1 1 0 0 0-.375-.78l-5-4a1 1 0 0 0-1.25 0z"/></g></svg><h3 class="t" style="left:481.30px;top:636.10px;font-size:18.00px;letter-spacing:-0.261px;font-weight:700;color:#111114;">Missing Topic Clusters</h3><a class="t" style="left:398.47px;top:667.21px;font-size:18.60px;letter-spacing:0.157px;color:#4f86dd;">Define</a><span class="t" style="left:457.21px;top:667.21px;font-size:18.60px;letter-spacing:0.017px;color:#77777c;">a topic cluster to activate this report.</span></article>
<article><svg style="position:absolute;left:1003.30px;top:554.40px;" width="811.00" height="164.20" viewBox="1003.3 554.4 811.0 164.20000000000005" fill="none" aria-hidden="true"><rect x="1005.3" y="556.4" width="807.0" height="160.20000000000005" rx="3.500" stroke="#e7e7ea" stroke-width="1.700" stroke-dasharray="6.2 1.9"/></svg><svg style="position:absolute;left:1387.30px;top:583.80px;" width="42.00" height="42.00" viewBox="0 0 24 24" fill="none" aria-hidden="true"><g stroke="#74747a" stroke-width="1.5" stroke-linecap="round" stroke-linejoin="round" color="#74747a"><path d="M19 8.268a2 2 0 0 1 1 1.732v8a2 2 0 0 1-2 2h-8a2 2 0 0 1-2-2v-8a2 2 0 0 1 2-2h3"/><path d="M5 15.734a2 2 0 0 1-1-1.734v-8a2 2 0 0 1 2-2h8a2 2 0 0 1 2 2v8a2 2 0 0 1-2 2h-3"/></g></svg><h3 class="t" style="left:1306.30px;top:636.10px;font-size:18.00px;letter-spacing:-0.236px;font-weight:700;color:#111114;">Missing Content Groups</h3><a class="t" style="left:1233.77px;top:667.21px;font-size:18.60px;letter-spacing:0.137px;color:#4f86dd;">Define</a><span class="t" style="left:1293.18px;top:667.21px;font-size:18.60px;color:#77777c;">some groups to activate this report.</span></article>
</section>
<section aria-label="Queries"><h2 class="t" style="left:171.77px;top:769.41px;font-size:20.30px;letter-spacing:-0.372px;font-weight:700;color:#0e0e12;">Queries</h2><div style="position:absolute;left:256.30px;top:760.60px;width:242.40px;height:36.10px;background:#f4f4f5;border-radius:7px;"></div><div style="position:absolute;left:259.00px;top:764.40px;width:66.10px;height:29.00px;background:#fff;border-radius:4px;box-shadow:0 1px 2px rgba(0,0,0,.05);"></div><button class="t" style="left:264.13px;top:770.91px;font-size:15.50px;letter-spacing:0.317px;color:#17171a;-webkit-text-stroke:0.25px currentColor;">Popular</button><button class="t" style="left:339.82px;top:770.91px;font-size:15.50px;letter-spacing:0.544px;color:#77777c;-webkit-text-stroke:0.2px currentColor;">Growing</button><button class="t" style="left:420.13px;top:770.91px;font-size:15.50px;letter-spacing:0.622px;color:#77777c;-webkit-text-stroke:0.2px currentColor;">Decaying</button><a class="t" style="left:755.64px;top:780.51px;font-size:14.90px;letter-spacing:0.953px;color:#4a86ea;-webkit-text-stroke:0.35px currentColor;">Clicks</a><div style="position:absolute;left:756.10px;top:793.20px;width:43.80px;height:1.30px;background:#4a86ea;"></div><a class="t" style="left:871.02px;top:780.51px;font-size:14.90px;letter-spacing:0.809px;color:#7f62cc;-webkit-text-stroke:0.35px currentColor;">Impressions</a><div role="row"><div style="position:absolute;left:173.00px;top:808.40px;width:578.30px;height:36.00px;background:#ecf1fe;border-radius:4px;"></div><a class="t" style="left:177.48px;top:817.50px;font-size:18.60px;letter-spacing:0.207px;color:#17171a;-webkit-text-stroke:0.4px currentColor;">seogets</a><svg style="position:absolute;left:249.06px;top:816.96px;" width="20.67" height="20.67" viewBox="0 0 24 24" fill="none" aria-hidden="true"><g stroke="#3c9266" stroke-width="1.700" stroke-linecap="round" stroke-linejoin="round"><path d="M5 7.2A2.2 2.2 0 0 1 7.200 5h1a2.200 2.200 0 0 0 1.550-.64l.7-.7a2.200 2.200 0 0 1 3.120 0l.7.7c.412.410.970.640 1.550.640h1a2.200 2.200 0 0 1 2.200 2.200v1c0 .580.230 1.138.640 1.550l.7.7a2.200 2.200 0 0 1 0 3.120l-.7.7a2.200 2.200 0 0 0-.640 1.550v1a2.200 2.200 0 0 1-2.200 2.200h-1a2.200 2.200 0 0 0-1.550.640l-.7.7a2.200 2.200 0 0 1-3.120 0l-.7-.7a2.200 2.200 0 0 0-1.550-.640h-1a2.200 2.200 0 0 1-2.200-2.200v-1a2.200 2.200 0 0 0-.640-1.550l-.7-.7a2.200 2.200 0 0 1 0-3.120l.7-.7A2.200 2.200 0 0 0 5 8.200v-1"/></g><text x="12.050" y="16.000" text-anchor="middle" font-family='"Liberation Sans",Arial,sans-serif' font-weight="700" font-size="11.400" fill="#3c9266" stroke="#3c9266" stroke-width=".35">1</text></svg><span class="t" style="left:755.16px;top:818.20px;font-size:17.60px;letter-spacing:-0.135px;color:#17171a;-webkit-text-stroke:0.3px currentColor;">10.3k</span><svg style="position:absolute;left:802.60px;top:821.39px;" width="6.60" height="9.20" viewBox="0 0 6.600 9.200" fill="none" aria-hidden="true"><path d="M3.300 8.400V1M.700 3.600 3.300 1 5.900 3.600" stroke="#3a9365" stroke-opacity=".6" stroke-width="1.000" stroke-linecap="round" stroke-linejoin="round"/></svg><span class="t" style="left:811.53px;top:819.50px;font-size:15.30px;letter-spacing:-0.141px;color:#3a9365;-webkit-text-stroke:0.25px currentColor;">1934</span><span class="t" style="left:845.56px;top:819.41px;font-size:13.6px;color:#3a9365;-webkit-text-stroke:.15px currentColor;transform:scaleX(0.899);transform-origin:0 50%;">%</span><span class="t" style="left:870.96px;top:818.20px;font-size:17.60px;letter-spacing:0.065px;color:#17171a;-webkit-text-stroke:0.3px currentColor;">13.4k</span><svg style="position:absolute;left:919.90px;top:821.39px;" width="6.60" height="9.20" viewBox="0 0 6.600 9.200" fill="none" aria-hidden="true"><path d="M3.300 8.400V1M.700 3.600 3.300 1 5.900 3.600" stroke="#3a9365" stroke-opacity=".6" stroke-width="1.000" stroke-linecap="round" stroke-linejoin="round"/></svg><span class="t" style="left:927.53px;top:819.50px;font-size:15.30px;letter-spacing:-0.482px;color:#3a9365;-webkit-text-stroke:0.25px currentColor;">1779</span><span class="t" style="left:960.26px;top:819.41px;font-size:13.6px;color:#3a9365;-webkit-text-stroke:.15px currentColor;transform:scaleX(0.899);transform-origin:0 50%;">%</span></div><div role="row"><div style="position:absolute;left:173.00px;top:850.40px;width:302.40px;height:36.00px;background:#ecf1fe;border-radius:4px;"></div><a class="t" style="left:178.03px;top:859.50px;font-size:18.60px;letter-spacing:0.124px;color:#17171a;-webkit-text-stroke:0.4px currentColor;">website page counter</a><svg style="position:absolute;left:362.67px;top:858.96px;" width="20.67" height="20.67" viewBox="0 0 24 24" fill="none" aria-hidden="true"><g stroke="#3c9266" stroke-width="1.700" stroke-linecap="round" stroke-linejoin="round"><path d="M5 7.2A2.2 2.2 0 0 1 7.200 5h1a2.200 2.200 0 0 0 1.550-.64l.7-.7a2.200 2.200 0 0 1 3.120 0l.7.7c.412.410.970.640 1.550.640h1a2.200 2.200 0 0 1 2.200 2.200v1c0 .580.230 1.138.640 1.550l.7.7a2.200 2.200 0 0 1 0 3.120l-.7.7a2.200 2.200 0 0 0-.640 1.550v1a2.200 2.200 0 0 1-2.200 2.200h-1a2.200 2.200 0 0 0-1.550.640l-.7.7a2.200 2.200 0 0 1-3.120 0l-.7-.7a2.200 2.200 0 0 0-1.550-.640h-1a2.200 2.200 0 0 1-2.200-2.200v-1a2.200 2.200 0 0 0-.640-1.550l-.7-.7a2.200 2.200 0 0 1 0-3.120l.7-.7A2.200 2.200 0 0 0 5 8.200v-1"/></g><text x="12.050" y="16.000" text-anchor="middle" font-family='"Liberation Sans",Arial,sans-serif' font-weight="700" font-size="11.400" fill="#3c9266" stroke="#3c9266" stroke-width=".35">2</text></svg><span class="t" style="left:755.80px;top:860.20px;font-size:17.60px;letter-spacing:0.771px;color:#17171a;-webkit-text-stroke:0.3px currentColor;">5.4k</span><svg style="position:absolute;left:796.10px;top:863.39px;" width="6.60" height="9.20" viewBox="0 0 6.600 9.200" fill="none" aria-hidden="true"><path d="M3.300 8.400V1M.700 3.600 3.300 1 5.900 3.600" stroke="#3a9365" stroke-opacity=".6" stroke-width="1.000" stroke-linecap="round" stroke-linejoin="round"/></svg><span class="t" style="left:805.67px;top:856.38px;font-size:25.0px;color:#3a9365;transform:scaleX(1.350);transform-origin:0 50%;">∞</span><span class="t" style="left:829.46px;top:861.41px;font-size:13.6px;color:#3a9365;-webkit-text-stroke:.15px currentColor;transform:scaleX(0.899);transform-origin:0 50%;">%</span><span class="t" style="left:870.96px;top:860.20px;font-size:17.60px;letter-spacing:0.065px;color:#17171a;-webkit-text-stroke:0.3px currentColor;">15.4k</span><svg style="position:absolute;left:919.10px;top:863.39px;" width="6.60" height="9.20" viewBox="0 0 6.600 9.200" fill="none" aria-hidden="true"><path d="M3.300 8.400V1M.700 3.600 3.300 1 5.900 3.600" stroke="#3a9365" stroke-opacity=".6" stroke-width="1.000" stroke-linecap="round" stroke-linejoin="round"/></svg><span class="t" style="left:928.57px;top:856.38px;font-size:25.0px;color:#3a9365;transform:scaleX(1.350);transform-origin:0 50%;">∞</span><span class="t" style="left:952.06px;top:861.41px;font-size:13.6px;color:#3a9365;-webkit-text-stroke:.15px currentColor;transform:scaleX(0.899);transform-origin:0 50%;">%</span></div><div role="row"><div style="position:absolute;left:173.00px;top:892.40px;width:280.80px;height:36.00px;background:#ecf1fe;border-radius:4px;"></div><a class="t" style="left:177.48px;top:901.50px;font-size:18.60px;letter-spacing:0.011px;color:#17171a;-webkit-text-stroke:0.4px currentColor;">seo gets</a><svg style="position:absolute;left:253.86px;top:900.96px;" width="20.67" height="20.67" viewBox="0 0 24 24" fill="none" aria-hidden="true"><g stroke="#3c9266" stroke-width="1.700" stroke-linecap="round" stroke-linejoin="round"><path d="M5 7.2A2.2 2.2 0 0 1 7.200 5h1a2.200 2.200 0 0 0 1.550-.64l.7-.7a2.200 2.200 0 0 1 3.120 0l.7.7c.412.410.970.640 1.550.640h1a2.200 2.200 0 0 1 2.200 2.200v1c0 .580.230 1.138.640 1.550l.7.7a2.200 2.200 0 0 1 0 3.120l-.7.7a2.200 2.200 0 0 0-.640 1.550v1a2.200 2.200 0 0 1-2.200 2.200h-1a2.200 2.200 0 0 0-1.550.640l-.7.7a2.200 2.200 0 0 1-3.120 0l-.7-.7a2.200 2.200 0 0 0-1.550-.640h-1a2.200 2.200 0 0 1-2.200-2.200v-1a2.200 2.200 0 0 0-.640-1.550l-.7-.7a2.200 2.200 0 0 1 0-3.120l.7-.7A2.200 2.200 0 0 0 5 8.200v-1"/></g><text x="12.050" y="16.000" text-anchor="middle" font-family='"Liberation Sans",Arial,sans-serif' font-weight="700" font-size="11.400" fill="#3c9266" stroke="#3c9266" stroke-width=".35">1</text></svg><span class="t" style="left:755.78px;top:902.21px;font-size:17.89px;letter-spacing:1.000px;color:#17171a;-webkit-text-stroke:0.3px currentColor;">5k</span><svg style="position:absolute;left:780.50px;top:905.39px;" width="6.60" height="9.20" viewBox="0 0 6.600 9.200" fill="none" aria-hidden="true"><path d="M3.300 8.400V1M.700 3.600 3.300 1 5.900 3.600" stroke="#3a9365" stroke-opacity=".6" stroke-width="1.000" stroke-linecap="round" stroke-linejoin="round"/></svg><span class="t" style="left:789.52px;top:903.50px;font-size:15.30px;letter-spacing:0.430px;color:#3a9365;-webkit-text-stroke:0.25px currentColor;">3375</span><span class="t" style="left:825.06px;top:903.41px;font-size:13.6px;color:#3a9365;-webkit-text-stroke:.15px currentColor;transform:scaleX(0.899);transform-origin:0 50%;">%</span><span class="t" style="left:871.41px;top:902.20px;font-size:17.60px;letter-spacing:0.634px;color:#17171a;-webkit-text-stroke:0.3px currentColor;">6.9k</span><svg style="position:absolute;left:912.10px;top:905.39px;" width="6.60" height="9.20" viewBox="0 0 6.600 9.200" fill="none" aria-hidden="true"><path d="M3.300 8.400V1M.700 3.600 3.300 1 5.900 3.600" stroke="#3a9365" stroke-opacity=".6" stroke-width="1.000" stroke-linecap="round" stroke-linejoin="round"/></svg><span class="t" style="left:920.93px;top:904.52px;font-size:14.89px;letter-spacing:-1.200px;color:#3a9365;-webkit-text-stroke:0.25px currentColor;">3116</span><span class="t" style="left:950.66px;top:903.41px;font-size:13.6px;color:#3a9365;-webkit-text-stroke:.15px currentColor;transform:scaleX(0.899);transform-origin:0 50%;">%</span></div><div role="row"><div style="position:absolute;left:173.00px;top:934.40px;width:56.90px;height:36.00px;background:#ecf1fe;border-radius:4px;"></div><a class="t" style="left:178.03px;top:943.50px;font-size:18.60px;letter-spacing:0.128px;color:#17171a;-webkit-text-stroke:0.4px currentColor;">website pages counter</a><svg style="position:absolute;left:371.97px;top:942.96px;" width="20.67" height="20.67" viewBox="0 0 24 24" fill="none" aria-hidden="true"><g stroke="#3c9266" stroke-width="1.700" stroke-linecap="round" stroke-linejoin="round"><path d="M5 7.2A2.2 2.2 0 0 1 7.200 5h1a2.200 2.200 0 0 0 1.550-.64l.7-.7a2.200 2.200 0 0 1 3.120 0l.7.7c.412.410.970.640 1.550.640h1a2.200 2.200 0 0 1 2.200 2.200v1c0 .580.230 1.138.640 1.550l.7.7a2.200 2.200 0 0 1 0 3.120l-.7.7a2.200 2.200 0 0 0-.640 1.550v1a2.200 2.200 0 0 1-2.200 2.200h-1a2.200 2.200 0 0 0-1.550.640l-.7.7a2.200 2.200 0 0 1-3.120 0l-.7-.7a2.200 2.200 0 0 0-1.550-.640h-1a2.200 2.200 0 0 1-2.200-2.200v-1a2.200 2.200 0 0 0-.640-1.550l-.7-.7a2.200 2.200 0 0 1 0-3.120l.7-.7A2.200 2.200 0 0 0 5 8.200v-1"/></g><text x="12.050" y="16.000" text-anchor="middle" font-family='"Liberation Sans",Arial,sans-serif' font-weight="700" font-size="11.400" fill="#3c9266" stroke="#3c9266" stroke-width=".35">2</text></svg><span class="t" style="left:755.20px;top:944.21px;font-size:17.02px;letter-spacing:-1.000px;color:#17171a;-webkit-text-stroke:0.3px currentColor;">1k</span><svg style="position:absolute;left:777.00px;top:947.39px;" width="6.60" height="9.20" viewBox="0 0 6.600 9.200" fill="none" aria-hidden="true"><path d="M3.300 8.400V1M.700 3.600 3.300 1 5.900 3.600" stroke="#3a9365" stroke-opacity=".6" stroke-width="1.000" stroke-linecap="round" stroke-linejoin="round"/></svg><span class="t" style="left:786.37px;top:940.38px;font-size:25.0px;color:#3a9365;transform:scaleX(1.350);transform-origin:0 50%;">∞</span><span class="t" style="left:810.16px;top:945.41px;font-size:13.6px;color:#3a9365;-webkit-text-stroke:.15px currentColor;transform:scaleX(0.899);transform-origin:0 50%;">%</span><span class="t" style="left:871.60px;top:944.20px;font-size:17.60px;letter-spacing:0.438px;color:#17171a;-webkit-text-stroke:0.3px currentColor;">5.6k</span><svg style="position:absolute;left:911.20px;top:947.39px;" width="6.60" height="9.20" viewBox="0 0 6.600 9.200" fill="none" aria-hidden="true"><path d="M3.300 8.400V1M.700 3.600 3.300 1 5.900 3.600" stroke="#3a9365" stroke-opacity=".6" stroke-width="1.000" stroke-linecap="round" stroke-linejoin="round"/></svg><span class="t" style="left:920.67px;top:940.38px;font-size:25.0px;color:#3a9365;transform:scaleX(1.350);transform-origin:0 50%;">∞</span><span class="t" style="left:944.26px;top:945.41px;font-size:13.6px;color:#3a9365;-webkit-text-stroke:.15px currentColor;transform:scaleX(0.899);transform-origin:0 50%;">%</span></div><div role="row"><div style="position:absolute;left:173.00px;top:976.40px;width:35.30px;height:36.00px;background:#ecf1fe;border-radius:4px;"></div><a class="t" style="left:176.80px;top:985.50px;font-size:18.60px;letter-spacing:0.216px;color:#17171a;-webkit-text-stroke:0.4px currentColor;">page counter website</a><svg style="position:absolute;left:362.87px;top:984.96px;" width="20.67" height="20.67" viewBox="0 0 24 24" fill="none" aria-hidden="true"><g stroke="#3c9266" stroke-width="1.700" stroke-linecap="round" stroke-linejoin="round"><path d="M5 7.2A2.2 2.2 0 0 1 7.200 5h1a2.200 2.200 0 0 0 1.550-.64l.7-.7a2.200 2.200 0 0 1 3.120 0l.7.7c.412.410.970.640 1.550.640h1a2.200 2.200 0 0 1 2.200 2.200v1c0 .580.230 1.138.640 1.550l.7.7a2.200 2.200 0 0 1 0 3.120l-.7.7a2.200 2.200 0 0 0-.640 1.550v1a2.200 2.200 0 0 1-2.200 2.200h-1a2.200 2.200 0 0 0-1.550.640l-.7.7a2.200 2.200 0 0 1-3.120 0l-.7-.7a2.200 2.200 0 0 0-1.550-.640h-1a2.200 2.200 0 0 1-2.200-2.200v-1a2.200 2.200 0 0 0-.640-1.550l-.7-.7a2.200 2.200 0 0 1 0-3.120l.7-.7A2.200 2.200 0 0 0 5 8.200v-1"/></g><text x="12.050" y="16.000" text-anchor="middle" font-family='"Liberation Sans",Arial,sans-serif' font-weight="700" font-size="11.400" fill="#3c9266" stroke="#3c9266" stroke-width=".35">2</text></svg><span class="t" style="left:755.56px;top:985.20px;font-size:18.43px;letter-spacing:1.000px;color:#17171a;-webkit-text-stroke:0.3px currentColor;">653</span><svg style="position:absolute;left:792.80px;top:989.39px;" width="6.60" height="9.20" viewBox="0 0 6.600 9.200" fill="none" aria-hidden="true"><path d="M3.300 8.400V1M.700 3.600 3.300 1 5.900 3.600" stroke="#3a9365" stroke-opacity=".6" stroke-width="1.000" stroke-linecap="round" stroke-linejoin="round"/></svg><span class="t" style="left:802.27px;top:982.38px;font-size:25.0px;color:#3a9365;transform:scaleX(1.350);transform-origin:0 50%;">∞</span><span class="t" style="left:825.86px;top:987.41px;font-size:13.6px;color:#3a9365;-webkit-text-stroke:.15px currentColor;transform:scaleX(0.899);transform-origin:0 50%;">%</span><span class="t" style="left:871.41px;top:986.20px;font-size:17.60px;letter-spacing:0.698px;color:#17171a;-webkit-text-stroke:0.3px currentColor;">2.3k</span><svg style="position:absolute;left:911.70px;top:989.39px;" width="6.60" height="9.20" viewBox="0 0 6.600 9.200" fill="none" aria-hidden="true"><path d="M3.300 8.400V1M.700 3.600 3.300 1 5.900 3.600" stroke="#3a9365" stroke-opacity=".6" stroke-width="1.000" stroke-linecap="round" stroke-linejoin="round"/></svg><span class="t" style="left:921.37px;top:982.38px;font-size:25.0px;color:#3a9365;transform:scaleX(1.350);transform-origin:0 50%;">∞</span><span class="t" style="left:944.86px;top:987.41px;font-size:13.6px;color:#3a9365;-webkit-text-stroke:.15px currentColor;transform:scaleX(0.899);transform-origin:0 50%;">%</span></div><div role="row"><div style="position:absolute;left:173.00px;top:1018.40px;width:28.30px;height:36.00px;background:#ecf1fe;border-radius:4px;"></div><a class="t" style="left:178.03px;top:1027.50px;font-size:18.60px;letter-spacing:0.136px;color:#17171a;-webkit-text-stroke:0.4px currentColor;">website page counter free</a><svg style="position:absolute;left:400.17px;top:1026.96px;" width="20.67" height="20.67" viewBox="0 0 24 24" fill="none" aria-hidden="true"><g stroke="#3c9266" stroke-width="1.700" stroke-linecap="round" stroke-linejoin="round"><path d="M5 7.2A2.2 2.2 0 0 1 7.200 5h1a2.200 2.200 0 0 0 1.550-.64l.7-.7a2.200 2.200 0 0 1 3.120 0l.7.7c.412.410.970.640 1.550.640h1a2.200 2.200 0 0 1 2.200 2.200v1c0 .580.230 1.138.640 1.550l.7.7a2.200 2.200 0 0 1 0 3.120l-.7.7a2.200 2.200 0 0 0-.640 1.550v1a2.200 2.200 0 0 1-2.200 2.200h-1a2.200 2.200 0 0 0-1.550.640l-.7.7a2.200 2.200 0 0 1-3.120 0l-.7-.7a2.200 2.200 0 0 0-1.550-.640h-1a2.200 2.200 0 0 1-2.200-2.200v-1a2.200 2.200 0 0 0-.640-1.550l-.7-.7a2.200 2.200 0 0 1 0-3.120l.7-.7A2.200 2.200 0 0 0 5 8.200v-1"/></g><text x="12.050" y="16.000" text-anchor="middle" font-family='"Liberation Sans",Arial,sans-serif' font-weight="700" font-size="11.400" fill="#3c9266" stroke="#3c9266" stroke-width=".35">2</text></svg><span class="t" style="left:755.77px;top:1027.21px;font-size:18.34px;letter-spacing:1.000px;color:#17171a;-webkit-text-stroke:0.3px currentColor;">529</span><svg style="position:absolute;left:792.80px;top:1031.39px;" width="6.60" height="9.20" viewBox="0 0 6.600 9.200" fill="none" aria-hidden="true"><path d="M3.300 8.400V1M.700 3.600 3.300 1 5.900 3.600" stroke="#3a9365" stroke-opacity=".6" stroke-width="1.000" stroke-linecap="round" stroke-linejoin="round"/></svg><span class="t" style="left:802.27px;top:1024.38px;font-size:25.0px;color:#3a9365;transform:scaleX(1.350);transform-origin:0 50%;">∞</span><span class="t" style="left:825.86px;top:1029.41px;font-size:13.6px;color:#3a9365;-webkit-text-stroke:.15px currentColor;transform:scaleX(0.899);transform-origin:0 50%;">%</span><span class="t" style="left:870.96px;top:1028.20px;font-size:17.60px;letter-spacing:-0.384px;color:#17171a;-webkit-text-stroke:0.3px currentColor;">1.6k</span><svg style="position:absolute;left:908.00px;top:1031.39px;" width="6.60" height="9.20" viewBox="0 0 6.600 9.200" fill="none" aria-hidden="true"><path d="M3.300 8.400V1M.700 3.600 3.300 1 5.900 3.600" stroke="#3a9365" stroke-opacity=".6" stroke-width="1.000" stroke-linecap="round" stroke-linejoin="round"/></svg><span class="t" style="left:917.47px;top:1024.38px;font-size:25.0px;color:#3a9365;transform:scaleX(1.350);transform-origin:0 50%;">∞</span><span class="t" style="left:941.06px;top:1029.41px;font-size:13.6px;color:#3a9365;-webkit-text-stroke:.15px currentColor;transform:scaleX(0.899);transform-origin:0 50%;">%</span></div><div role="row"><div style="position:absolute;left:173.00px;top:1060.40px;width:26.20px;height:36.00px;background:#ecf1fe;border-radius:4px;"></div><a class="t" style="left:178.03px;top:1069.50px;font-size:18.60px;letter-spacing:0.154px;color:#17171a;-webkit-text-stroke:0.4px currentColor;">web page counter</a><svg style="position:absolute;left:333.27px;top:1068.96px;" width="20.67" height="20.67" viewBox="0 0 24 24" fill="none" aria-hidden="true"><g stroke="#3c9266" stroke-width="1.700" stroke-linecap="round" stroke-linejoin="round"><path d="M5 7.2A2.2 2.2 0 0 1 7.200 5h1a2.200 2.200 0 0 0 1.550-.64l.7-.7a2.200 2.200 0 0 1 3.120 0l.7.7c.412.410.970.640 1.550.640h1a2.200 2.200 0 0 1 2.200 2.200v1c0 .580.230 1.138.640 1.550l.7.7a2.200 2.200 0 0 1 0 3.120l-.7.7a2.200 2.200 0 0 0-.640 1.550v1a2.200 2.200 0 0 1-2.200 2.200h-1a2.200 2.200 0 0 0-1.550.640l-.7.7a2.200 2.200 0 0 1-3.120 0l-.7-.7a2.200 2.200 0 0 0-1.550-.640h-1a2.200 2.200 0 0 1-2.200-2.200v-1a2.200 2.200 0 0 0-.640-1.550l-.7-.7a2.200 2.200 0 0 1 0-3.120l.7-.7A2.200 2.200 0 0 0 5 8.200v-1"/></g><text x="12.050" y="16.000" text-anchor="middle" font-family='"Liberation Sans",Arial,sans-serif' font-weight="700" font-size="11.400" fill="#3c9266" stroke="#3c9266" stroke-width=".35">3</text></svg><span class="t" style="left:756.08px;top:1069.21px;font-size:18.29px;letter-spacing:1.000px;color:#17171a;-webkit-text-stroke:0.3px currentColor;">483</span><svg style="position:absolute;left:793.00px;top:1073.39px;" width="6.60" height="9.20" viewBox="0 0 6.600 9.200" fill="none" aria-hidden="true"><path d="M3.300 8.400V1M.700 3.600 3.300 1 5.900 3.600" stroke="#3a9365" stroke-opacity=".6" stroke-width="1.000" stroke-linecap="round" stroke-linejoin="round"/></svg><span class="t" style="left:802.47px;top:1066.38px;font-size:25.0px;color:#3a9365;transform:scaleX(1.350);transform-origin:0 50%;">∞</span><span class="t" style="left:826.06px;top:1071.41px;font-size:13.6px;color:#3a9365;-webkit-text-stroke:.15px currentColor;transform:scaleX(0.899);transform-origin:0 50%;">%</span><span class="t" style="left:871.41px;top:1070.20px;font-size:17.60px;letter-spacing:0.498px;color:#17171a;-webkit-text-stroke:0.3px currentColor;">2.5k</span><svg style="position:absolute;left:911.20px;top:1073.39px;" width="6.60" height="9.20" viewBox="0 0 6.600 9.200" fill="none" aria-hidden="true"><path d="M3.300 8.400V1M.700 3.600 3.300 1 5.900 3.600" stroke="#3a9365" stroke-opacity=".6" stroke-width="1.000" stroke-linecap="round" stroke-linejoin="round"/></svg><span class="t" style="left:920.67px;top:1066.38px;font-size:25.0px;color:#3a9365;transform:scaleX(1.350);transform-origin:0 50%;">∞</span><span class="t" style="left:944.26px;top:1071.41px;font-size:13.6px;color:#3a9365;-webkit-text-stroke:.15px currentColor;transform:scaleX(0.899);transform-origin:0 50%;">%</span></div></section>
<section aria-label="Pages"><h2 class="t" style="left:1002.44px;top:769.41px;font-size:20.30px;letter-spacing:-0.230px;font-weight:700;color:#0e0e12;">Pages</h2><div style="position:absolute;left:1072.60px;top:760.60px;width:243.40px;height:36.10px;background:#f4f4f5;border-radius:7px;"></div><div style="position:absolute;left:1076.80px;top:764.40px;width:65.20px;height:29.00px;background:#fff;border-radius:4px;box-shadow:0 1px 2px rgba(0,0,0,.05);"></div><button class="t" style="left:1081.23px;top:770.91px;font-size:15.50px;letter-spacing:0.284px;color:#17171a;-webkit-text-stroke:0.25px currentColor;">Popular</button><button class="t" style="left:1156.92px;top:770.91px;font-size:15.50px;letter-spacing:0.477px;color:#77777c;-webkit-text-stroke:0.2px currentColor;">Growing</button><button class="t" style="left:1236.83px;top:770.91px;font-size:15.50px;letter-spacing:0.550px;color:#77777c;-webkit-text-stroke:0.2px currentColor;">Decaying</button><a class="t" style="left:1586.84px;top:780.51px;font-size:14.90px;letter-spacing:0.993px;color:#4a86ea;-webkit-text-stroke:0.35px currentColor;">Clicks</a><div style="position:absolute;left:1587.30px;top:793.20px;width:44.00px;height:1.30px;background:#4a86ea;"></div><a class="t" style="left:1702.32px;top:780.51px;font-size:14.90px;letter-spacing:0.779px;color:#7f62cc;-webkit-text-stroke:0.35px currentColor;">Impressions</a><div role="row"><div style="position:absolute;left:1003.10px;top:808.40px;width:578.70px;height:36.00px;background:#ecf1fe;border-radius:4px;"></div><a class="t" style="left:1009.00px;top:817.50px;font-size:18.60px;letter-spacing:0.427px;color:#17171a;-webkit-text-stroke:0.4px currentColor;">/tools/website-page-counter/</a><span class="t" style="left:1587.31px;top:818.20px;font-size:17.60px;letter-spacing:0.601px;color:#17171a;-webkit-text-stroke:0.3px currentColor;">26.9k</span><svg style="position:absolute;left:1637.90px;top:821.39px;" width="6.60" height="9.20" viewBox="0 0 6.600 9.200" fill="none" aria-hidden="true"><path d="M3.300 8.400V1M.700 3.600 3.300 1 5.900 3.600" stroke="#3a9365" stroke-opacity=".6" stroke-width="1.000" stroke-linecap="round" stroke-linejoin="round"/></svg><span class="t" style="left:1647.77px;top:814.38px;font-size:25.0px;color:#3a9365;transform:scaleX(1.350);transform-origin:0 50%;">∞</span><span class="t" style="left:1670.96px;top:819.41px;font-size:13.6px;color:#3a9365;-webkit-text-stroke:.15px currentColor;transform:scaleX(0.899);transform-origin:0 50%;">%</span><span class="t" style="left:1703.10px;top:818.20px;font-size:17.60px;letter-spacing:0.447px;color:#17171a;-webkit-text-stroke:0.3px currentColor;">555.6k</span><svg style="position:absolute;left:1762.80px;top:821.39px;" width="6.60" height="9.20" viewBox="0 0 6.600 9.200" fill="none" aria-hidden="true"><path d="M3.300 8.400V1M.700 3.600 3.300 1 5.900 3.600" stroke="#3a9365" stroke-opacity=".6" stroke-width="1.000" stroke-linecap="round" stroke-linejoin="round"/></svg><span class="t" style="left:1772.57px;top:814.38px;font-size:25.0px;color:#3a9365;transform:scaleX(1.350);transform-origin:0 50%;">∞</span><span class="t" style="left:1796.36px;top:819.41px;font-size:13.6px;color:#3a9365;-webkit-text-stroke:.15px currentColor;transform:scaleX(0.899);transform-origin:0 50%;">%</span></div><div role="row"><div style="position:absolute;left:1003.10px;top:850.40px;width:376.00px;height:36.00px;background:#ecf1fe;border-radius:4px;"></div><a class="t" style="left:1009.00px;top:859.50px;font-size:18.60px;color:#17171a;-webkit-text-stroke:0.4px currentColor;">/</a><span class="t" style="left:1586.86px;top:860.20px;font-size:17.60px;letter-spacing:-0.685px;color:#17171a;-webkit-text-stroke:0.3px currentColor;">17.4k</span><svg style="position:absolute;left:1632.10px;top:863.39px;" width="6.60" height="9.20" viewBox="0 0 6.600 9.200" fill="none" aria-hidden="true"><path d="M3.300 8.400V1M.700 3.600 3.300 1 5.900 3.600" stroke="#3a9365" stroke-opacity=".6" stroke-width="1.000" stroke-linecap="round" stroke-linejoin="round"/></svg><span class="t" style="left:1641.33px;top:861.50px;font-size:15.30px;letter-spacing:0.767px;color:#3a9365;-webkit-text-stroke:0.25px currentColor;">2202</span><span class="t" style="left:1677.76px;top:861.41px;font-size:13.6px;color:#3a9365;-webkit-text-stroke:.15px currentColor;transform:scaleX(0.899);transform-origin:0 50%;">%</span><span class="t" style="left:1702.91px;top:860.20px;font-size:17.60px;letter-spacing:0.765px;color:#17171a;-webkit-text-stroke:0.3px currentColor;">686.3k</span><svg style="position:absolute;left:1764.10px;top:863.39px;" width="6.60" height="9.20" viewBox="0 0 6.600 9.200" fill="none" aria-hidden="true"><path d="M3.300 8.400V1M.700 3.600 3.300 1 5.900 3.600" stroke="#3a9365" stroke-opacity=".6" stroke-width="1.000" stroke-linecap="round" stroke-linejoin="round"/></svg><span class="t" style="left:1773.65px;top:861.50px;font-size:15.30px;letter-spacing:0.786px;color:#3a9365;-webkit-text-stroke:0.25px currentColor;">4885</span><span class="t" style="left:1810.26px;top:861.41px;font-size:13.6px;color:#3a9365;-webkit-text-stroke:.15px currentColor;transform:scaleX(0.899);transform-origin:0 50%;">%</span></div><div role="row"><div style="position:absolute;left:1003.10px;top:892.40px;width:14.40px;height:36.00px;background:#ecf1fe;border-radius:4px;"></div><a class="t" style="left:1009.00px;top:901.50px;font-size:18.60px;letter-spacing:0.463px;color:#17171a;-webkit-text-stroke:0.4px currentColor;">/blog/google-indexing-script/</a><span class="t" style="left:1587.29px;top:901.20px;font-size:17.99px;letter-spacing:1.000px;color:#17171a;-webkit-text-stroke:0.3px currentColor;">667</span><svg style="position:absolute;left:1623.40px;top:905.39px;" width="6.60" height="9.20" viewBox="0 0 6.600 9.200" fill="none" aria-hidden="true"><path d="M3.300 8.400V1M.700 3.600 3.300 1 5.900 3.600" stroke="#3a9365" stroke-opacity=".6" stroke-width="1.000" stroke-linecap="round" stroke-linejoin="round"/></svg><span class="t" style="left:1633.27px;top:898.38px;font-size:25.0px;color:#3a9365;transform:scaleX(1.350);transform-origin:0 50%;">∞</span><span class="t" style="left:1656.76px;top:903.41px;font-size:13.6px;color:#3a9365;-webkit-text-stroke:.15px currentColor;transform:scaleX(0.899);transform-origin:0 50%;">%</span><span class="t" style="left:1702.90px;top:902.20px;font-size:17.60px;letter-spacing:0.430px;color:#17171a;-webkit-text-stroke:0.3px currentColor;">72.3k</span><svg style="position:absolute;left:1752.70px;top:905.39px;" width="6.60" height="9.20" viewBox="0 0 6.600 9.200" fill="none" aria-hidden="true"><path d="M3.300 8.400V1M.700 3.600 3.300 1 5.900 3.600" stroke="#3a9365" stroke-opacity=".6" stroke-width="1.000" stroke-linecap="round" stroke-linejoin="round"/></svg><span class="t" style="left:1762.57px;top:898.38px;font-size:25.0px;color:#3a9365;transform:scaleX(1.350);transform-origin:0 50%;">∞</span><span class="t" style="left:1786.16px;top:903.41px;font-size:13.6px;color:#3a9365;-webkit-text-stroke:.15px currentColor;transform:scaleX(0.899);transform-origin:0 50%;">%</span></div><div role="row"><div style="position:absolute;left:1003.10px;top:934.40px;width:10.60px;height:36.00px;background:#ecf1fe;border-radius:4px;"></div><a class="t" style="left:1009.00px;top:943.50px;font-size:18.60px;letter-spacing:0.397px;color:#17171a;-webkit-text-stroke:0.4px currentColor;">/blog/what-are-anonymous-queries/</a><span class="t" style="left:1587.78px;top:943.21px;font-size:18.36px;letter-spacing:1.000px;color:#17171a;-webkit-text-stroke:0.3px currentColor;">450</span><svg style="position:absolute;left:1624.50px;top:947.39px;" width="6.60" height="9.20" viewBox="0 0 6.600 9.200" fill="none" aria-hidden="true"><path d="M3.300 8.400V1M.700 3.600 3.300 1 5.900 3.600" stroke="#3a9365" stroke-opacity=".6" stroke-width="1.000" stroke-linecap="round" stroke-linejoin="round"/></svg><span class="t" style="left:1634.57px;top:940.38px;font-size:25.0px;color:#3a9365;transform:scaleX(1.350);transform-origin:0 50%;">∞</span><span class="t" style="left:1657.86px;top:945.41px;font-size:13.6px;color:#3a9365;-webkit-text-stroke:.15px currentColor;transform:scaleX(0.899);transform-origin:0 50%;">%</span><span class="t" style="left:1702.46px;top:944.20px;font-size:17.60px;letter-spacing:-0.160px;color:#17171a;-webkit-text-stroke:0.3px currentColor;">16.2k</span><svg style="position:absolute;left:1749.60px;top:947.39px;" width="6.60" height="9.20" viewBox="0 0 6.600 9.200" fill="none" aria-hidden="true"><path d="M3.300 8.400V1M.700 3.600 3.300 1 5.900 3.600" stroke="#3a9365" stroke-opacity=".6" stroke-width="1.000" stroke-linecap="round" stroke-linejoin="round"/></svg><span class="t" style="left:1759.57px;top:940.38px;font-size:25.0px;color:#3a9365;transform:scaleX(1.350);transform-origin:0 50%;">∞</span><span class="t" style="left:1783.26px;top:945.41px;font-size:13.6px;color:#3a9365;-webkit-text-stroke:.15px currentColor;transform:scaleX(0.899);transform-origin:0 50%;">%</span></div><div role="row"><div style="position:absolute;left:1003.10px;top:976.40px;width:9.80px;height:36.00px;background:#ecf1fe;border-radius:4px;"></div><a class="t" style="left:1009.00px;top:985.50px;font-size:18.60px;letter-spacing:0.456px;color:#17171a;-webkit-text-stroke:0.4px currentColor;">/features/how-to-extend-gsc-historical-data/</a><span class="t" style="left:1587.78px;top:985.21px;font-size:18.49px;letter-spacing:1.000px;color:#17171a;-webkit-text-stroke:0.3px currentColor;">422</span><svg style="position:absolute;left:1624.50px;top:989.39px;" width="6.60" height="9.20" viewBox="0 0 6.600 9.200" fill="none" aria-hidden="true"><path d="M3.300 8.400V1M.700 3.600 3.300 1 5.900 3.600" stroke="#3a9365" stroke-opacity=".6" stroke-width="1.000" stroke-linecap="round" stroke-linejoin="round"/></svg><span class="t" style="left:1634.57px;top:982.38px;font-size:25.0px;color:#3a9365;transform:scaleX(1.350);transform-origin:0 50%;">∞</span><span class="t" style="left:1657.86px;top:987.41px;font-size:13.6px;color:#3a9365;-webkit-text-stroke:.15px currentColor;transform:scaleX(0.899);transform-origin:0 50%;">%</span><span class="t" style="left:1702.91px;top:986.20px;font-size:17.60px;letter-spacing:0.751px;color:#17171a;-webkit-text-stroke:0.3px currentColor;">23.9k</span><svg style="position:absolute;left:1753.90px;top:989.39px;" width="6.60" height="9.20" viewBox="0 0 6.600 9.200" fill="none" aria-hidden="true"><path d="M3.300 8.400V1M.700 3.600 3.300 1 5.900 3.600" stroke="#3a9365" stroke-opacity=".6" stroke-width="1.000" stroke-linecap="round" stroke-linejoin="round"/></svg><span class="t" style="left:1763.37px;top:982.38px;font-size:25.0px;color:#3a9365;transform:scaleX(1.350);transform-origin:0 50%;">∞</span><span class="t" style="left:1787.06px;top:987.41px;font-size:13.6px;color:#3a9365;-webkit-text-stroke:.15px currentColor;transform:scaleX(0.899);transform-origin:0 50%;">%</span></div><div role="row"><div style="position:absolute;left:1003.10px;top:1018.40px;width:6.50px;height:36.00px;background:#ecf1fe;border-radius:4px;"></div><a class="t" style="left:1009.00px;top:1027.50px;font-size:18.60px;letter-spacing:0.379px;color:#17171a;-webkit-text-stroke:0.4px currentColor;">/tools/</a><span class="t" style="left:1587.30px;top:1028.20px;font-size:17.95px;letter-spacing:1.000px;color:#17171a;-webkit-text-stroke:0.3px currentColor;">279</span><svg style="position:absolute;left:1623.30px;top:1031.39px;" width="6.60" height="9.20" viewBox="0 0 6.600 9.200" fill="none" aria-hidden="true"><path d="M3.300 8.400V1M.700 3.600 3.300 1 5.900 3.600" stroke="#3a9365" stroke-opacity=".6" stroke-width="1.000" stroke-linecap="round" stroke-linejoin="round"/></svg><span class="t" style="left:1633.27px;top:1024.38px;font-size:25.0px;color:#3a9365;transform:scaleX(1.350);transform-origin:0 50%;">∞</span><span class="t" style="left:1656.66px;top:1029.41px;font-size:13.6px;color:#3a9365;-webkit-text-stroke:.15px currentColor;transform:scaleX(0.899);transform-origin:0 50%;">%</span><span class="t" style="left:1702.91px;top:1028.20px;font-size:17.60px;letter-spacing:0.753px;color:#17171a;-webkit-text-stroke:0.3px currentColor;">60.6k</span><svg style="position:absolute;left:1753.90px;top:1031.39px;" width="6.60" height="9.20" viewBox="0 0 6.600 9.200" fill="none" aria-hidden="true"><path d="M3.300 8.400V1M.700 3.600 3.300 1 5.900 3.600" stroke="#3a9365" stroke-opacity=".6" stroke-width="1.000" stroke-linecap="round" stroke-linejoin="round"/></svg><span class="t" style="left:1763.37px;top:1024.38px;font-size:25.0px;color:#3a9365;transform:scaleX(1.350);transform-origin:0 50%;">∞</span><span class="t" style="left:1787.06px;top:1029.41px;font-size:13.6px;color:#3a9365;-webkit-text-stroke:.15px currentColor;transform:scaleX(0.899);transform-origin:0 50%;">%</span></div><div role="row"><div style="position:absolute;left:1003.10px;top:1060.40px;width:6.10px;height:36.00px;background:#ecf1fe;border-radius:4px;"></div><a class="t" style="left:1009.00px;top:1069.50px;font-size:18.60px;letter-spacing:0.459px;color:#17171a;-webkit-text-stroke:0.4px currentColor;">/pricing/</a><span class="t" style="left:1587.29px;top:1069.21px;font-size:18.13px;letter-spacing:1.000px;color:#17171a;-webkit-text-stroke:0.3px currentColor;">234</span><svg style="position:absolute;left:1624.00px;top:1073.39px;" width="6.60" height="9.20" viewBox="0 0 6.600 9.200" fill="none" aria-hidden="true"><path d="M3.300 8.400V1M.700 3.600 3.300 1 5.900 3.600" stroke="#3a9365" stroke-opacity=".6" stroke-width="1.000" stroke-linecap="round" stroke-linejoin="round"/></svg><span class="t" style="left:1633.87px;top:1066.38px;font-size:25.0px;color:#3a9365;transform:scaleX(1.350);transform-origin:0 50%;">∞</span><span class="t" style="left:1657.36px;top:1071.41px;font-size:13.6px;color:#3a9365;-webkit-text-stroke:.15px currentColor;transform:scaleX(0.899);transform-origin:0 50%;">%</span><span class="t" style="left:1703.10px;top:1070.20px;font-size:17.60px;letter-spacing:0.556px;color:#17171a;-webkit-text-stroke:0.3px currentColor;">52.9k</span><svg style="position:absolute;left:1753.40px;top:1073.39px;" width="6.60" height="9.20" viewBox="0 0 6.600 9.200" fill="none" aria-hidden="true"><path d="M3.300 8.400V1M.700 3.600 3.300 1 5.900 3.600" stroke="#3a9365" stroke-opacity=".6" stroke-width="1.000" stroke-linecap="round" stroke-linejoin="round"/></svg><span class="t" style="left:1762.87px;top:1066.38px;font-size:25.0px;color:#3a9365;transform:scaleX(1.350);transform-origin:0 50%;">∞</span><span class="t" style="left:1786.56px;top:1071.41px;font-size:13.6px;color:#3a9365;-webkit-text-stroke:.15px currentColor;transform:scaleX(0.899);transform-origin:0 50%;">%</span></div></section>
<svg style="position:absolute;left:1870px;top:968px" width="92" height="92" viewBox="1870 968 92 92" role="img" aria-label="Open chat"><circle cx="1916.400" cy="1014.100" r="39.400" fill="#1a73f4"/><path d="M1897.000 1003.400 1932.200 999.900 1934.300 1021.900 1922.000 1023.300 1917.400 1031.500 1911.800 1024.600 1899.100 1026.000Z" fill="#fff" stroke="#fff" stroke-width="1" stroke-linejoin="round"/></svg>
<svg style="position:absolute;left:1160px;top:104px" width="30" height="36" viewBox="-7 -6 30 36" aria-hidden="true"><defs><filter id="cs" x="-50%" y="-50%" width="200%" height="200%"><feGaussianBlur stdDeviation="1.100"/></filter></defs><path d="M0 0V16.700L3.300 13.700 7.300 22.300 10 21 6.300 12.700 12.400 12.400Z" fill="#000" opacity=".55" filter="url(#cs)" transform="translate(1.500 2.200)"/><path d="M0 0V16.700L3.300 13.700 7.300 22.300 10 21 6.300 12.700 12.400 12.400Z" fill="#07070f" stroke="#fff" stroke-width="1.700" stroke-linejoin="round" paint-order="stroke"/><path d="M0 0V16.700L3.300 13.700 7.300 22.300 10 21 6.300 12.700 12.400 12.400Z" fill="#07070f"/></svg>
<svg style="position:absolute;left:0;top:1071.500px" width="8.500" height="8.500" viewBox="0 0 8.500 8.500" aria-hidden="true"><path d="M0 0v8.500h8.500A8.500 8.500 0 0 1 0 0Z" fill="#0b0b0d"/></svg>
<svg style="position:absolute;left:1975.500px;top:1071.500px" width="8.500" height="8.500" viewBox="0 0 8.500 8.500" aria-hidden="true"><path d="M8.500 0v8.500H0A8.500 8.500 0 0 0 8.500 0Z" fill="#0b0b0d"/></svg>
</main>
</body></html>
